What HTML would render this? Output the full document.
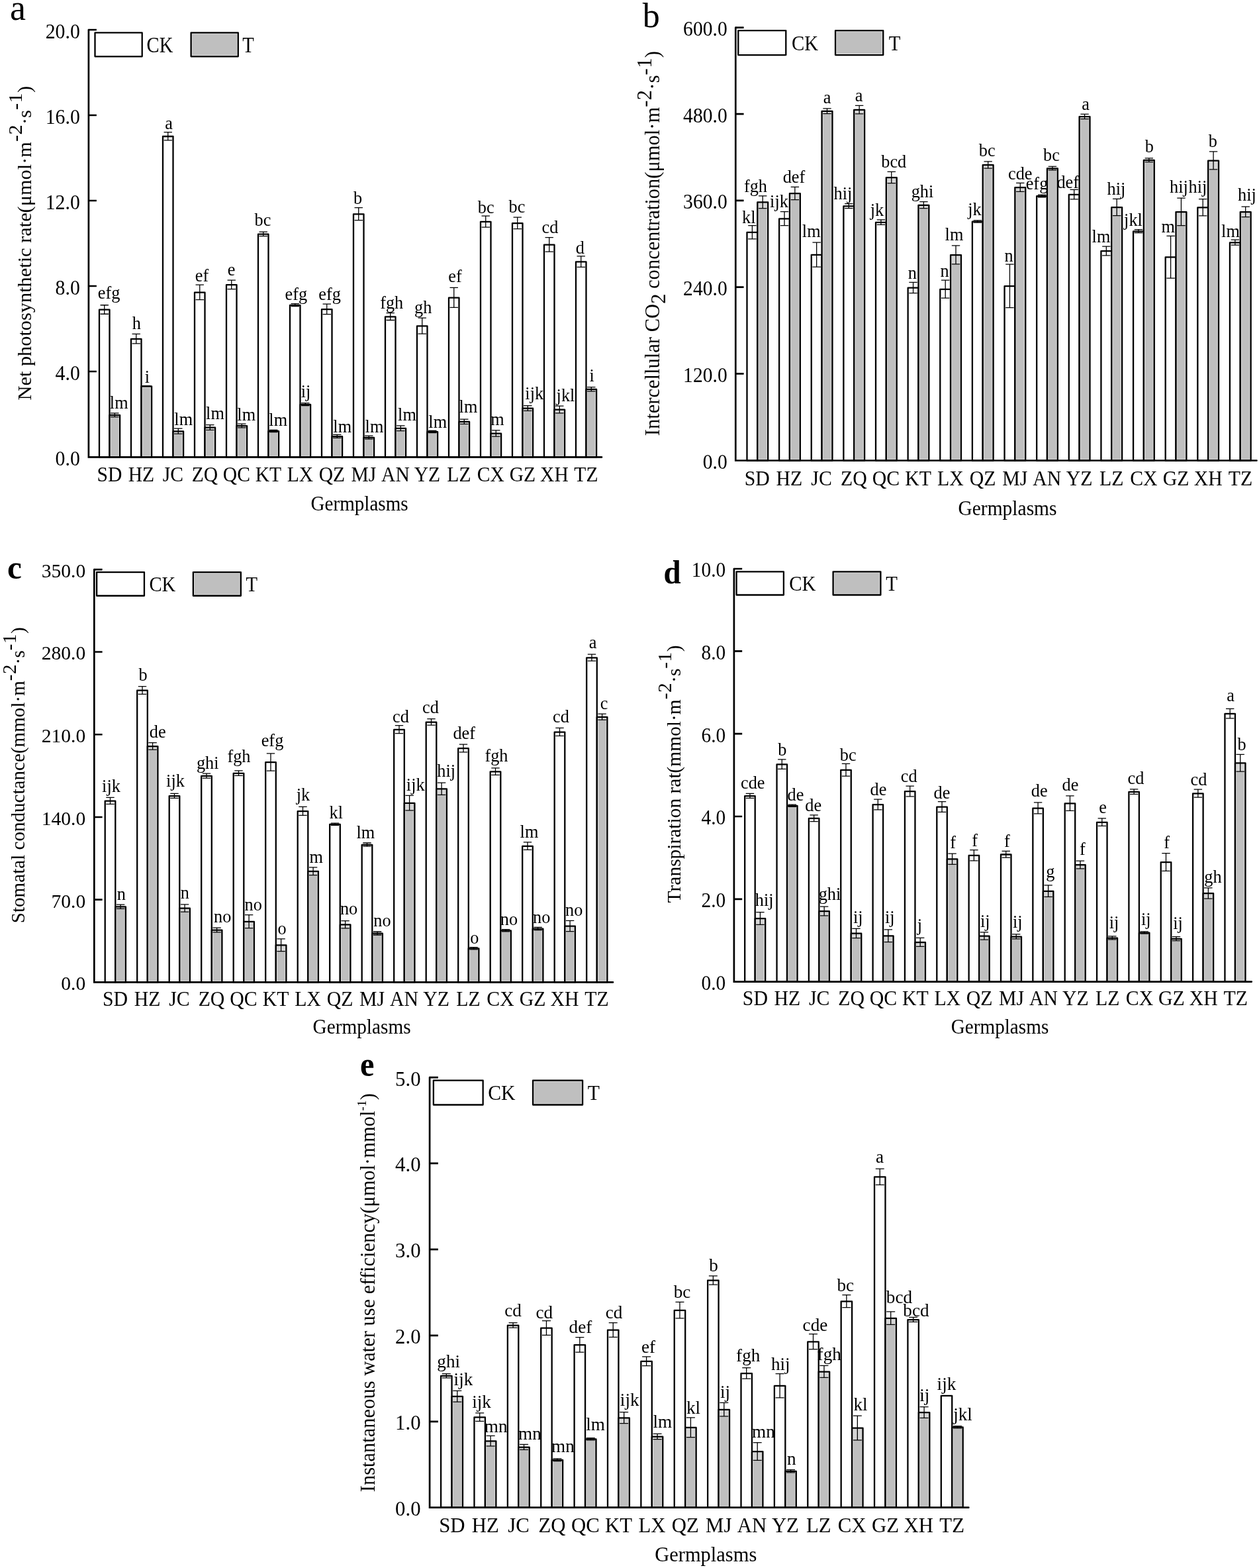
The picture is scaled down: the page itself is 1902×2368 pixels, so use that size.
<!DOCTYPE html>
<html lang="en">
<head>
<meta charset="utf-8">
<title>Photosynthetic parameters of germplasms under CK and T treatments</title>
<style>
html,body{margin:0;padding:0;background:#fff;}
body{width:1902px;height:2368px;overflow:hidden;font-family:"Liberation Serif","DejaVu Serif",serif;}
svg{display:block;}
svg text{font-family:"Liberation Serif","DejaVu Serif",serif;fill:#000;}
</style>
</head>
<body>
<svg width="1902" height="2368" viewBox="0 0 1902 2368">
<rect width="1902" height="2368" fill="#fff"/>
<g>
<text transform="translate(15 29.8) scale(1 1)" font-size="54">a</text>
<rect x="150" y="467.7" width="15.5" height="222.7" fill="#fff" stroke="#000" stroke-width="2.3" stroke-linejoin="round"/>
<rect x="165.5" y="626.9" width="15.6" height="63.5" fill="#bfbfbf"/>
<rect x="167.1" y="628.5" width="12.4" height="60.5" fill="none" stroke="#dcdcdc" stroke-width="1.1"/>
<rect x="166.65" y="626.9" width="13.3" height="2.9" fill="#d6d6d6"/>
<rect x="165.5" y="626.9" width="15.6" height="63.5" fill="none" stroke="#000" stroke-width="2.3" stroke-linejoin="round"/>
<path d="M157.75 460.75V474.25M151.55 460.75H163.95M151.55 474.25H163.95" fill="none" stroke="#000" stroke-width="1.3"/>
<path d="M173.3 623.8V629.6M167.1 623.8H179.5M167.1 629.6H179.5" fill="none" stroke="#000" stroke-width="1.3"/>
<rect x="198" y="511.9" width="15.5" height="178.5" fill="#fff" stroke="#000" stroke-width="2.3" stroke-linejoin="round"/>
<rect x="213.5" y="583.4" width="15.6" height="107" fill="#bfbfbf"/>
<rect x="215.1" y="585" width="12.4" height="104" fill="none" stroke="#dcdcdc" stroke-width="1.1"/>
<rect x="213.5" y="583.4" width="15.6" height="107" fill="none" stroke="#000" stroke-width="2.3" stroke-linejoin="round"/>
<path d="M205.75 504.45V518.95M199.55 504.45H211.95M199.55 518.95H211.95" fill="none" stroke="#000" stroke-width="1.3"/>
<path d="M221.3 582.7V583.7M215.1 582.7H227.5M215.1 583.7H227.5" fill="none" stroke="#000" stroke-width="1.3"/>
<rect x="246" y="206" width="15.5" height="484.4" fill="#fff" stroke="#000" stroke-width="2.3" stroke-linejoin="round"/>
<rect x="261.5" y="651.4" width="15.6" height="39" fill="#bfbfbf"/>
<rect x="263.1" y="653" width="12.4" height="36" fill="none" stroke="#dcdcdc" stroke-width="1.1"/>
<rect x="262.65" y="651.4" width="13.3" height="4" fill="#d6d6d6"/>
<rect x="261.5" y="651.4" width="15.6" height="39" fill="none" stroke="#000" stroke-width="2.3" stroke-linejoin="round"/>
<path d="M253.75 199.7V211.9M247.55 199.7H259.95M247.55 211.9H259.95" fill="none" stroke="#000" stroke-width="1.3"/>
<path d="M269.3 647.2V655.2M263.1 647.2H275.5M263.1 655.2H275.5" fill="none" stroke="#000" stroke-width="1.3"/>
<rect x="294" y="441.65" width="15.5" height="248.75" fill="#fff" stroke="#000" stroke-width="2.3" stroke-linejoin="round"/>
<rect x="309.5" y="645.65" width="15.6" height="44.75" fill="#bfbfbf"/>
<rect x="311.1" y="647.25" width="12.4" height="41.75" fill="none" stroke="#dcdcdc" stroke-width="1.1"/>
<rect x="310.65" y="645.65" width="13.3" height="3.9" fill="#d6d6d6"/>
<rect x="309.5" y="645.65" width="15.6" height="44.75" fill="none" stroke="#000" stroke-width="2.3" stroke-linejoin="round"/>
<path d="M301.75 430.2V452.7M295.55 430.2H307.95M295.55 452.7H307.95" fill="none" stroke="#000" stroke-width="1.3"/>
<path d="M317.3 641.55V649.35M311.1 641.55H323.5M311.1 649.35H323.5" fill="none" stroke="#000" stroke-width="1.3"/>
<rect x="342" y="430.15" width="15.5" height="260.25" fill="#fff" stroke="#000" stroke-width="2.3" stroke-linejoin="round"/>
<rect x="357.5" y="643.15" width="15.6" height="47.25" fill="#bfbfbf"/>
<rect x="359.1" y="644.75" width="12.4" height="44.25" fill="none" stroke="#dcdcdc" stroke-width="1.1"/>
<rect x="358.65" y="643.15" width="13.3" height="2.9" fill="#d6d6d6"/>
<rect x="357.5" y="643.15" width="15.6" height="47.25" fill="none" stroke="#000" stroke-width="2.3" stroke-linejoin="round"/>
<path d="M349.75 423.2V436.7M343.55 423.2H355.95M343.55 436.7H355.95" fill="none" stroke="#000" stroke-width="1.3"/>
<path d="M365.3 640.05V645.85M359.1 640.05H371.5M359.1 645.85H371.5" fill="none" stroke="#000" stroke-width="1.3"/>
<rect x="390" y="353.65" width="15.5" height="336.75" fill="#fff" stroke="#000" stroke-width="2.3" stroke-linejoin="round"/>
<rect x="405.5" y="651.15" width="15.6" height="39.25" fill="#bfbfbf"/>
<rect x="407.1" y="652.75" width="12.4" height="36.25" fill="none" stroke="#dcdcdc" stroke-width="1.1"/>
<rect x="405.5" y="651.15" width="15.6" height="39.25" fill="none" stroke="#000" stroke-width="2.3" stroke-linejoin="round"/>
<path d="M397.75 350.2V356.7M391.55 350.2H403.95M391.55 356.7H403.95" fill="none" stroke="#000" stroke-width="1.3"/>
<path d="M413.3 649.35V652.55M407.1 649.35H419.5M407.1 652.55H419.5" fill="none" stroke="#000" stroke-width="1.3"/>
<rect x="438" y="460.9" width="15.5" height="229.5" fill="#fff" stroke="#000" stroke-width="2.3" stroke-linejoin="round"/>
<rect x="453.5" y="610.9" width="15.6" height="79.5" fill="#bfbfbf"/>
<rect x="455.1" y="612.5" width="12.4" height="76.5" fill="none" stroke="#dcdcdc" stroke-width="1.1"/>
<rect x="453.5" y="610.9" width="15.6" height="79.5" fill="none" stroke="#000" stroke-width="2.3" stroke-linejoin="round"/>
<path d="M445.75 458.7V462.7M439.55 458.7H451.95M439.55 462.7H451.95" fill="none" stroke="#000" stroke-width="1.3"/>
<path d="M461.3 608.7V612.7M455.1 608.7H467.5M455.1 612.7H467.5" fill="none" stroke="#000" stroke-width="1.3"/>
<rect x="486" y="467.15" width="15.5" height="223.25" fill="#fff" stroke="#000" stroke-width="2.3" stroke-linejoin="round"/>
<rect x="501.5" y="659.15" width="15.6" height="31.25" fill="#bfbfbf"/>
<rect x="503.1" y="660.75" width="12.4" height="28.25" fill="none" stroke="#dcdcdc" stroke-width="1.1"/>
<rect x="502.65" y="659.15" width="13.3" height="2.5" fill="#d6d6d6"/>
<rect x="501.5" y="659.15" width="15.6" height="31.25" fill="none" stroke="#000" stroke-width="2.3" stroke-linejoin="round"/>
<path d="M493.75 459.2V474.7M487.55 459.2H499.95M487.55 474.7H499.95" fill="none" stroke="#000" stroke-width="1.3"/>
<path d="M509.3 656.45V661.45M503.1 656.45H515.5M503.1 661.45H515.5" fill="none" stroke="#000" stroke-width="1.3"/>
<rect x="534" y="323.4" width="15.5" height="367" fill="#fff" stroke="#000" stroke-width="2.3" stroke-linejoin="round"/>
<rect x="549.5" y="660.9" width="15.6" height="29.5" fill="#bfbfbf"/>
<rect x="551.1" y="662.5" width="12.4" height="26.5" fill="none" stroke="#dcdcdc" stroke-width="1.1"/>
<rect x="550.65" y="660.9" width="13.3" height="2.5" fill="#d6d6d6"/>
<rect x="549.5" y="660.9" width="15.6" height="29.5" fill="none" stroke="#000" stroke-width="2.3" stroke-linejoin="round"/>
<path d="M541.75 313.7V332.7M535.55 313.7H547.95M535.55 332.7H547.95" fill="none" stroke="#000" stroke-width="1.3"/>
<path d="M557.3 658.2V663.2M551.1 658.2H563.5M551.1 663.2H563.5" fill="none" stroke="#000" stroke-width="1.3"/>
<rect x="582" y="478.3" width="15.5" height="212.1" fill="#fff" stroke="#000" stroke-width="2.3" stroke-linejoin="round"/>
<rect x="597.5" y="646.9" width="15.6" height="43.5" fill="#bfbfbf"/>
<rect x="599.1" y="648.5" width="12.4" height="40.5" fill="none" stroke="#dcdcdc" stroke-width="1.1"/>
<rect x="598.65" y="646.9" width="13.3" height="3.9" fill="#d6d6d6"/>
<rect x="597.5" y="646.9" width="15.6" height="43.5" fill="none" stroke="#000" stroke-width="2.3" stroke-linejoin="round"/>
<path d="M589.75 472.7V483.5M583.55 472.7H595.95M583.55 483.5H595.95" fill="none" stroke="#000" stroke-width="1.3"/>
<path d="M605.3 642.8V650.6M599.1 642.8H611.5M599.1 650.6H611.5" fill="none" stroke="#000" stroke-width="1.3"/>
<rect x="630" y="492.4" width="15.5" height="198" fill="#fff" stroke="#000" stroke-width="2.3" stroke-linejoin="round"/>
<rect x="645.5" y="652.15" width="15.6" height="38.25" fill="#bfbfbf"/>
<rect x="647.1" y="653.75" width="12.4" height="35.25" fill="none" stroke="#dcdcdc" stroke-width="1.1"/>
<rect x="645.5" y="652.15" width="15.6" height="38.25" fill="none" stroke="#000" stroke-width="2.3" stroke-linejoin="round"/>
<path d="M637.75 480.2V504.2M631.55 480.2H643.95M631.55 504.2H643.95" fill="none" stroke="#000" stroke-width="1.3"/>
<path d="M653.3 650.35V653.55M647.1 650.35H659.5M647.1 653.55H659.5" fill="none" stroke="#000" stroke-width="1.3"/>
<rect x="678" y="449.65" width="15.5" height="240.75" fill="#fff" stroke="#000" stroke-width="2.3" stroke-linejoin="round"/>
<rect x="693.5" y="636.9" width="15.6" height="53.5" fill="#bfbfbf"/>
<rect x="695.1" y="638.5" width="12.4" height="50.5" fill="none" stroke="#dcdcdc" stroke-width="1.1"/>
<rect x="694.65" y="636.9" width="13.3" height="3.6" fill="#d6d6d6"/>
<rect x="693.5" y="636.9" width="15.6" height="53.5" fill="none" stroke="#000" stroke-width="2.3" stroke-linejoin="round"/>
<path d="M685.75 434.45V464.45M679.55 434.45H691.95M679.55 464.45H691.95" fill="none" stroke="#000" stroke-width="1.3"/>
<path d="M701.3 633.1V640.3M695.1 633.1H707.5M695.1 640.3H707.5" fill="none" stroke="#000" stroke-width="1.3"/>
<rect x="726" y="334.9" width="15.5" height="355.5" fill="#fff" stroke="#000" stroke-width="2.3" stroke-linejoin="round"/>
<rect x="741.5" y="654.65" width="15.6" height="35.75" fill="#bfbfbf"/>
<rect x="743.1" y="656.25" width="12.4" height="32.75" fill="none" stroke="#dcdcdc" stroke-width="1.1"/>
<rect x="742.65" y="654.65" width="13.3" height="4.6" fill="#d6d6d6"/>
<rect x="741.5" y="654.65" width="15.6" height="35.75" fill="none" stroke="#000" stroke-width="2.3" stroke-linejoin="round"/>
<path d="M733.75 326.2V343.2M727.55 326.2H739.95M727.55 343.2H739.95" fill="none" stroke="#000" stroke-width="1.3"/>
<path d="M749.3 649.85V659.05M743.1 649.85H755.5M743.1 659.05H755.5" fill="none" stroke="#000" stroke-width="1.3"/>
<rect x="774" y="337.15" width="15.5" height="353.25" fill="#fff" stroke="#000" stroke-width="2.3" stroke-linejoin="round"/>
<rect x="789.5" y="616.65" width="15.6" height="73.75" fill="#bfbfbf"/>
<rect x="791.1" y="618.25" width="12.4" height="70.75" fill="none" stroke="#dcdcdc" stroke-width="1.1"/>
<rect x="790.65" y="616.65" width="13.3" height="3.9" fill="#d6d6d6"/>
<rect x="789.5" y="616.65" width="15.6" height="73.75" fill="none" stroke="#000" stroke-width="2.3" stroke-linejoin="round"/>
<path d="M781.75 328.2V345.7M775.55 328.2H787.95M775.55 345.7H787.95" fill="none" stroke="#000" stroke-width="1.3"/>
<path d="M797.3 612.55V620.35M791.1 612.55H803.5M791.1 620.35H803.5" fill="none" stroke="#000" stroke-width="1.3"/>
<rect x="822" y="369.65" width="15.5" height="320.75" fill="#fff" stroke="#000" stroke-width="2.3" stroke-linejoin="round"/>
<rect x="837.5" y="618.65" width="15.6" height="71.75" fill="#bfbfbf"/>
<rect x="839.1" y="620.25" width="12.4" height="68.75" fill="none" stroke="#dcdcdc" stroke-width="1.1"/>
<rect x="838.65" y="618.65" width="13.3" height="5.4" fill="#d6d6d6"/>
<rect x="837.5" y="618.65" width="15.6" height="71.75" fill="none" stroke="#000" stroke-width="2.3" stroke-linejoin="round"/>
<path d="M829.75 358.7V380.2M823.55 358.7H835.95M823.55 380.2H835.95" fill="none" stroke="#000" stroke-width="1.3"/>
<path d="M845.3 613.05V623.85M839.1 613.05H851.5M839.1 623.85H851.5" fill="none" stroke="#000" stroke-width="1.3"/>
<rect x="870" y="395.4" width="15.5" height="295" fill="#fff" stroke="#000" stroke-width="2.3" stroke-linejoin="round"/>
<rect x="885.5" y="587.9" width="15.6" height="102.5" fill="#bfbfbf"/>
<rect x="887.1" y="589.5" width="12.4" height="99.5" fill="none" stroke="#dcdcdc" stroke-width="1.1"/>
<rect x="886.65" y="587.9" width="13.3" height="3.1" fill="#d6d6d6"/>
<rect x="885.5" y="587.9" width="15.6" height="102.5" fill="none" stroke="#000" stroke-width="2.3" stroke-linejoin="round"/>
<path d="M877.75 386.95V403.45M871.55 386.95H883.95M871.55 403.45H883.95" fill="none" stroke="#000" stroke-width="1.3"/>
<path d="M893.3 584.6V590.8M887.1 584.6H899.5M887.1 590.8H899.5" fill="none" stroke="#000" stroke-width="1.3"/>
<g font-size="26.3" text-anchor="middle" transform="scale(1 1.075)">
<text x="164.6" y="419.35">efg</text>
<text x="179.75" y="573.77">lm</text>
<text x="206.25" y="462.14">h</text>
<text x="222.5" y="537.26">i</text>
<text x="255" y="181.44">a</text>
<text x="277.25" y="597.02">lm</text>
<text x="305" y="395.4">ef</text>
<text x="325" y="589.12">lm</text>
<text x="349.5" y="387.26">e</text>
<text x="372.25" y="590.74">lm</text>
<text x="397" y="317.49">bc</text>
<text x="420.25" y="598.42">lm</text>
<text x="447.25" y="421.44">efg</text>
<text x="462" y="558.19">ij</text>
<text x="498" y="421.44">efg</text>
<text x="517.25" y="607.72">lm</text>
<text x="540.6" y="286.09">b</text>
<text x="565.5" y="607.72">lm</text>
<text x="591.75" y="433.07">fgh</text>
<text x="615" y="590.74">lm</text>
<text x="639.25" y="440.05">gh</text>
<text x="661.25" y="600.51">lm</text>
<text x="687.5" y="396.09">ef</text>
<text x="707.5" y="579.12">lm</text>
<text x="734.25" y="299.58">bc</text>
<text x="751.5" y="597.02">m</text>
<text x="781" y="298.19">bc</text>
<text x="807.25" y="560.51">ijk</text>
<text x="831" y="327.72">cd</text>
<text x="854.5" y="564">jkl</text>
<text x="876.25" y="356.56">d</text>
<text x="894.25" y="536.09">i</text>
</g>
<path d="M133.9 45V690.4H909" fill="none" stroke="#000" stroke-width="2.7" stroke-linecap="round"/>
<path d="M133.9 45H145.9M133.9 174H145.9M133.9 303H145.9M133.9 432H145.9M133.9 561H145.9" fill="none" stroke="#000" stroke-width="2.7"/>
<g font-size="29.8" text-anchor="end" transform="scale(1 1.07)">
<text x="120.8" y="54.21">20.0</text>
<text x="120.8" y="174.77">16.0</text>
<text x="120.8" y="295.33">12.0</text>
<text x="120.8" y="415.89">8.0</text>
<text x="120.8" y="536.45">4.0</text>
<text x="120.8" y="657.38">0.0</text>
</g>
<rect x="143.5" y="49.4" width="71.2" height="35.9" fill="#fff" stroke="#000" stroke-width="2.3" stroke-linejoin="round"/>
<rect x="288.6" y="49.4" width="71.2" height="35.9" fill="#bfbfbf"/>
<rect x="290.2" y="51" width="68" height="32.7" fill="none" stroke="#dcdcdc" stroke-width="1.1"/>
<rect x="288.6" y="49.4" width="71.2" height="35.9" fill="none" stroke="#000" stroke-width="2.3" stroke-linejoin="round"/>
<g font-size="28.7" transform="scale(1 1.14)">
<text x="221.6" y="69.56">CK</text>
<text x="366.3" y="69.56">T</text>
</g>
<g font-size="29.6" text-anchor="middle" transform="scale(1 1.07)">
<text x="165.4" y="679.86">SD</text>
<text x="213.4" y="679.86">HZ</text>
<text x="261.4" y="679.86">JC</text>
<text x="309.4" y="679.86">ZQ</text>
<text x="357.4" y="679.86">QC</text>
<text x="405.4" y="679.86">KT</text>
<text x="453.4" y="679.86">LX</text>
<text x="501.4" y="679.86">QZ</text>
<text x="549.4" y="679.86">MJ</text>
<text x="597.4" y="679.86">AN</text>
<text x="645.4" y="679.86">YZ</text>
<text x="693.4" y="679.86">LZ</text>
<text x="741.4" y="679.86">CX</text>
<text x="789.4" y="679.86">GZ</text>
<text x="837.4" y="679.86">XH</text>
<text x="885.4" y="679.86">TZ</text>
</g>
<text transform="translate(469.6 771.3) scale(1 1.06)" font-size="29.1">Germplasms</text>
<text transform="translate(47 604.5) rotate(-90)" font-size="30.35">Net photosynthetic rate(μmol·m<tspan dy="-13.6" letter-spacing="0.4">-2</tspan><tspan dy="13.6">·s</tspan><tspan dy="-13.6" letter-spacing="0.4">-1</tspan><tspan dy="13.6">)</tspan></text>
</g>
<g>
<text transform="translate(970.7 40.7) scale(1 1)" font-size="52">b</text>
<rect x="1128.5" y="350.9" width="15.8" height="344.6" fill="#fff" stroke="#000" stroke-width="2.3" stroke-linejoin="round"/>
<rect x="1144.3" y="305.4" width="15.9" height="390.1" fill="#bfbfbf"/>
<rect x="1145.9" y="307" width="12.7" height="387.1" fill="none" stroke="#dcdcdc" stroke-width="1.1"/>
<rect x="1145.45" y="305.4" width="13.6" height="9.4" fill="#d6d6d6"/>
<rect x="1144.3" y="305.4" width="15.9" height="390.1" fill="none" stroke="#000" stroke-width="2.3" stroke-linejoin="round"/>
<path d="M1136.4 340.6V360.8M1130.2 340.6H1142.6M1130.2 360.8H1142.6" fill="none" stroke="#000" stroke-width="1.3"/>
<path d="M1152.25 295.8V314.6M1146.05 295.8H1158.45M1146.05 314.6H1158.45" fill="none" stroke="#000" stroke-width="1.3"/>
<rect x="1177.13" y="330.4" width="15.8" height="365.1" fill="#fff" stroke="#000" stroke-width="2.3" stroke-linejoin="round"/>
<rect x="1192.93" y="292.15" width="15.9" height="403.35" fill="#bfbfbf"/>
<rect x="1194.53" y="293.75" width="12.7" height="400.35" fill="none" stroke="#dcdcdc" stroke-width="1.1"/>
<rect x="1194.08" y="292.15" width="13.6" height="9.6" fill="#d6d6d6"/>
<rect x="1192.93" y="292.15" width="15.9" height="403.35" fill="none" stroke="#000" stroke-width="2.3" stroke-linejoin="round"/>
<path d="M1185.03 319.7V340.7M1178.83 319.7H1191.23M1178.83 340.7H1191.23" fill="none" stroke="#000" stroke-width="1.3"/>
<path d="M1200.88 282.35V301.55M1194.68 282.35H1207.08M1194.68 301.55H1207.08" fill="none" stroke="#000" stroke-width="1.3"/>
<rect x="1225.76" y="384.9" width="15.8" height="310.6" fill="#fff" stroke="#000" stroke-width="2.3" stroke-linejoin="round"/>
<rect x="1241.56" y="167.9" width="15.9" height="527.6" fill="#bfbfbf"/>
<rect x="1243.16" y="169.5" width="12.7" height="524.6" fill="none" stroke="#dcdcdc" stroke-width="1.1"/>
<rect x="1242.71" y="167.9" width="13.6" height="3.9" fill="#d6d6d6"/>
<rect x="1241.56" y="167.9" width="15.9" height="527.6" fill="none" stroke="#000" stroke-width="2.3" stroke-linejoin="round"/>
<path d="M1233.66 366.2V403.2M1227.46 366.2H1239.86M1227.46 403.2H1239.86" fill="none" stroke="#000" stroke-width="1.3"/>
<path d="M1249.51 163.8V171.6M1243.31 163.8H1255.71M1243.31 171.6H1255.71" fill="none" stroke="#000" stroke-width="1.3"/>
<rect x="1274.39" y="311.4" width="15.8" height="384.1" fill="#fff" stroke="#000" stroke-width="2.3" stroke-linejoin="round"/>
<rect x="1290.19" y="165.9" width="15.9" height="529.6" fill="#bfbfbf"/>
<rect x="1291.79" y="167.5" width="12.7" height="526.6" fill="none" stroke="#dcdcdc" stroke-width="1.1"/>
<rect x="1291.34" y="165.9" width="13.6" height="6.25" fill="#d6d6d6"/>
<rect x="1290.19" y="165.9" width="15.9" height="529.6" fill="none" stroke="#000" stroke-width="2.3" stroke-linejoin="round"/>
<path d="M1282.29 307.7V314.7M1276.09 307.7H1288.49M1276.09 314.7H1288.49" fill="none" stroke="#000" stroke-width="1.3"/>
<path d="M1298.14 159.45V171.95M1291.94 159.45H1304.34M1291.94 171.95H1304.34" fill="none" stroke="#000" stroke-width="1.3"/>
<rect x="1323.02" y="335.9" width="15.8" height="359.6" fill="#fff" stroke="#000" stroke-width="2.3" stroke-linejoin="round"/>
<rect x="1338.82" y="268.15" width="15.9" height="427.35" fill="#bfbfbf"/>
<rect x="1340.42" y="269.75" width="12.7" height="424.35" fill="none" stroke="#dcdcdc" stroke-width="1.1"/>
<rect x="1339.97" y="268.15" width="13.6" height="8.6" fill="#d6d6d6"/>
<rect x="1338.82" y="268.15" width="15.9" height="427.35" fill="none" stroke="#000" stroke-width="2.3" stroke-linejoin="round"/>
<path d="M1330.92 331.95V339.45M1324.72 331.95H1337.12M1324.72 339.45H1337.12" fill="none" stroke="#000" stroke-width="1.3"/>
<path d="M1346.77 259.35V276.55M1340.57 259.35H1352.97M1340.57 276.55H1352.97" fill="none" stroke="#000" stroke-width="1.3"/>
<rect x="1371.65" y="434.65" width="15.8" height="260.85" fill="#fff" stroke="#000" stroke-width="2.3" stroke-linejoin="round"/>
<rect x="1387.45" y="309.9" width="15.9" height="385.6" fill="#bfbfbf"/>
<rect x="1389.05" y="311.5" width="12.7" height="382.6" fill="none" stroke="#dcdcdc" stroke-width="1.1"/>
<rect x="1388.6" y="309.9" width="13.6" height="5" fill="#d6d6d6"/>
<rect x="1387.45" y="309.9" width="15.9" height="385.6" fill="none" stroke="#000" stroke-width="2.3" stroke-linejoin="round"/>
<path d="M1379.55 426.35V442.55M1373.35 426.35H1385.75M1373.35 442.55H1385.75" fill="none" stroke="#000" stroke-width="1.3"/>
<path d="M1395.4 304.7V314.7M1389.2 304.7H1401.6M1389.2 314.7H1401.6" fill="none" stroke="#000" stroke-width="1.3"/>
<rect x="1420.28" y="436.9" width="15.8" height="258.6" fill="#fff" stroke="#000" stroke-width="2.3" stroke-linejoin="round"/>
<rect x="1436.08" y="385.15" width="15.9" height="310.35" fill="#bfbfbf"/>
<rect x="1437.68" y="386.75" width="12.7" height="307.35" fill="none" stroke="#dcdcdc" stroke-width="1.1"/>
<rect x="1437.23" y="385.15" width="13.6" height="14" fill="#d6d6d6"/>
<rect x="1436.08" y="385.15" width="15.9" height="310.35" fill="none" stroke="#000" stroke-width="2.3" stroke-linejoin="round"/>
<path d="M1428.18 423.2V450.2M1421.98 423.2H1434.38M1421.98 450.2H1434.38" fill="none" stroke="#000" stroke-width="1.3"/>
<path d="M1444.03 370.95V398.95M1437.83 370.95H1450.23M1437.83 398.95H1450.23" fill="none" stroke="#000" stroke-width="1.3"/>
<rect x="1468.91" y="334.65" width="15.8" height="360.85" fill="#fff" stroke="#000" stroke-width="2.3" stroke-linejoin="round"/>
<rect x="1484.71" y="249.15" width="15.9" height="446.35" fill="#bfbfbf"/>
<rect x="1486.31" y="250.75" width="12.7" height="443.35" fill="none" stroke="#dcdcdc" stroke-width="1.1"/>
<rect x="1485.86" y="249.15" width="13.6" height="5.1" fill="#d6d6d6"/>
<rect x="1484.71" y="249.15" width="15.9" height="446.35" fill="none" stroke="#000" stroke-width="2.3" stroke-linejoin="round"/>
<path d="M1476.81 332.85V336.05M1470.61 332.85H1483.01M1470.61 336.05H1483.01" fill="none" stroke="#000" stroke-width="1.3"/>
<path d="M1492.66 243.85V254.05M1486.46 243.85H1498.86M1486.46 254.05H1498.86" fill="none" stroke="#000" stroke-width="1.3"/>
<rect x="1517.54" y="432.15" width="15.8" height="263.35" fill="#fff" stroke="#000" stroke-width="2.3" stroke-linejoin="round"/>
<rect x="1533.34" y="283.15" width="15.9" height="412.35" fill="#bfbfbf"/>
<rect x="1534.94" y="284.75" width="12.7" height="409.35" fill="none" stroke="#dcdcdc" stroke-width="1.1"/>
<rect x="1534.49" y="283.15" width="13.6" height="6.5" fill="#d6d6d6"/>
<rect x="1533.34" y="283.15" width="15.9" height="412.35" fill="none" stroke="#000" stroke-width="2.3" stroke-linejoin="round"/>
<path d="M1525.44 399.2V464.7M1519.24 399.2H1531.64M1519.24 464.7H1531.64" fill="none" stroke="#000" stroke-width="1.3"/>
<path d="M1541.29 276.45V289.45M1535.09 276.45H1547.49M1535.09 289.45H1547.49" fill="none" stroke="#000" stroke-width="1.3"/>
<rect x="1566.17" y="296.15" width="15.8" height="399.35" fill="#fff" stroke="#000" stroke-width="2.3" stroke-linejoin="round"/>
<rect x="1581.97" y="254.4" width="15.9" height="441.1" fill="#bfbfbf"/>
<rect x="1583.57" y="256" width="12.7" height="438.1" fill="none" stroke="#dcdcdc" stroke-width="1.1"/>
<rect x="1583.12" y="254.4" width="13.6" height="2.75" fill="#d6d6d6"/>
<rect x="1581.97" y="254.4" width="15.9" height="441.1" fill="none" stroke="#000" stroke-width="2.3" stroke-linejoin="round"/>
<path d="M1574.07 294.15V297.75M1567.87 294.15H1580.27M1567.87 297.75H1580.27" fill="none" stroke="#000" stroke-width="1.3"/>
<path d="M1589.92 251.45V256.95M1583.72 251.45H1596.12M1583.72 256.95H1596.12" fill="none" stroke="#000" stroke-width="1.3"/>
<rect x="1614.8" y="293.9" width="15.8" height="401.6" fill="#fff" stroke="#000" stroke-width="2.3" stroke-linejoin="round"/>
<rect x="1630.6" y="176.15" width="15.9" height="519.35" fill="#bfbfbf"/>
<rect x="1632.2" y="177.75" width="12.7" height="516.35" fill="none" stroke="#dcdcdc" stroke-width="1.1"/>
<rect x="1631.75" y="176.15" width="13.6" height="3.6" fill="#d6d6d6"/>
<rect x="1630.6" y="176.15" width="15.9" height="519.35" fill="none" stroke="#000" stroke-width="2.3" stroke-linejoin="round"/>
<path d="M1622.7 286.45V300.95M1616.5 286.45H1628.9M1616.5 300.95H1628.9" fill="none" stroke="#000" stroke-width="1.3"/>
<path d="M1638.55 172.35V179.55M1632.35 172.35H1644.75M1632.35 179.55H1644.75" fill="none" stroke="#000" stroke-width="1.3"/>
<rect x="1663.43" y="379.15" width="15.8" height="316.35" fill="#fff" stroke="#000" stroke-width="2.3" stroke-linejoin="round"/>
<rect x="1679.23" y="313.15" width="15.9" height="382.35" fill="#bfbfbf"/>
<rect x="1680.83" y="314.75" width="12.7" height="379.35" fill="none" stroke="#dcdcdc" stroke-width="1.1"/>
<rect x="1680.38" y="313.15" width="13.6" height="12.6" fill="#d6d6d6"/>
<rect x="1679.23" y="313.15" width="15.9" height="382.35" fill="none" stroke="#000" stroke-width="2.3" stroke-linejoin="round"/>
<path d="M1671.33 372.05V385.85M1665.13 372.05H1677.53M1665.13 385.85H1677.53" fill="none" stroke="#000" stroke-width="1.3"/>
<path d="M1687.18 300.35V325.55M1680.98 300.35H1693.38M1680.98 325.55H1693.38" fill="none" stroke="#000" stroke-width="1.3"/>
<rect x="1712.06" y="349.4" width="15.8" height="346.1" fill="#fff" stroke="#000" stroke-width="2.3" stroke-linejoin="round"/>
<rect x="1727.86" y="241.9" width="15.9" height="453.6" fill="#bfbfbf"/>
<rect x="1729.46" y="243.5" width="12.7" height="450.6" fill="none" stroke="#dcdcdc" stroke-width="1.1"/>
<rect x="1729.01" y="241.9" width="13.6" height="2.9" fill="#d6d6d6"/>
<rect x="1727.86" y="241.9" width="15.9" height="453.6" fill="none" stroke="#000" stroke-width="2.3" stroke-linejoin="round"/>
<path d="M1719.96 346.7V351.7M1713.76 346.7H1726.16M1713.76 351.7H1726.16" fill="none" stroke="#000" stroke-width="1.3"/>
<path d="M1735.81 238.8V244.6M1729.61 238.8H1742.01M1729.61 244.6H1742.01" fill="none" stroke="#000" stroke-width="1.3"/>
<rect x="1760.69" y="388.4" width="15.8" height="307.1" fill="#fff" stroke="#000" stroke-width="2.3" stroke-linejoin="round"/>
<rect x="1776.49" y="320.15" width="15.9" height="375.35" fill="#bfbfbf"/>
<rect x="1778.09" y="321.75" width="12.7" height="372.35" fill="none" stroke="#dcdcdc" stroke-width="1.1"/>
<rect x="1777.64" y="320.15" width="13.6" height="20.75" fill="#d6d6d6"/>
<rect x="1776.49" y="320.15" width="15.9" height="375.35" fill="none" stroke="#000" stroke-width="2.3" stroke-linejoin="round"/>
<path d="M1768.59 356.3V420.1M1762.39 356.3H1774.79M1762.39 420.1H1774.79" fill="none" stroke="#000" stroke-width="1.3"/>
<path d="M1784.44 299.2V340.7M1778.24 299.2H1790.64M1778.24 340.7H1790.64" fill="none" stroke="#000" stroke-width="1.3"/>
<rect x="1809.32" y="313.4" width="15.8" height="382.1" fill="#fff" stroke="#000" stroke-width="2.3" stroke-linejoin="round"/>
<rect x="1825.12" y="242.65" width="15.9" height="452.85" fill="#bfbfbf"/>
<rect x="1826.72" y="244.25" width="12.7" height="449.85" fill="none" stroke="#dcdcdc" stroke-width="1.1"/>
<rect x="1826.27" y="242.65" width="13.6" height="13.5" fill="#d6d6d6"/>
<rect x="1825.12" y="242.65" width="15.9" height="452.85" fill="none" stroke="#000" stroke-width="2.3" stroke-linejoin="round"/>
<path d="M1817.22 300.6V325.8M1811.02 300.6H1823.42M1811.02 325.8H1823.42" fill="none" stroke="#000" stroke-width="1.3"/>
<path d="M1833.07 228.95V255.95M1826.87 228.95H1839.27M1826.87 255.95H1839.27" fill="none" stroke="#000" stroke-width="1.3"/>
<rect x="1857.95" y="366.4" width="15.8" height="329.1" fill="#fff" stroke="#000" stroke-width="2.3" stroke-linejoin="round"/>
<rect x="1873.75" y="320.15" width="15.9" height="375.35" fill="#bfbfbf"/>
<rect x="1875.35" y="321.75" width="12.7" height="372.35" fill="none" stroke="#dcdcdc" stroke-width="1.1"/>
<rect x="1874.9" y="320.15" width="13.6" height="7.75" fill="#d6d6d6"/>
<rect x="1873.75" y="320.15" width="15.9" height="375.35" fill="none" stroke="#000" stroke-width="2.3" stroke-linejoin="round"/>
<path d="M1865.85 362.2V370.2M1859.65 362.2H1872.05M1859.65 370.2H1872.05" fill="none" stroke="#000" stroke-width="1.3"/>
<path d="M1881.7 312.2V327.7M1875.5 312.2H1887.9M1875.5 327.7H1887.9" fill="none" stroke="#000" stroke-width="1.3"/>
<g font-size="26.3" text-anchor="middle" transform="scale(1 1.0)">
<text x="1131.25" y="337.05">kl</text>
<text x="1141.5" y="290.05">fgh</text>
<text x="1177" y="312.55">ijk</text>
<text x="1199.5" y="276.3">def</text>
<text x="1225.75" y="357.55">lm</text>
<text x="1249.5" y="156.3">a</text>
<text x="1273.5" y="300.8">hij</text>
<text x="1297.5" y="152.55">a</text>
<text x="1325" y="326.3">jk</text>
<text x="1350.25" y="252.55">bcd</text>
<text x="1378.25" y="420.8">n</text>
<text x="1393.5" y="297.55">ghi</text>
<text x="1427" y="418.3">n</text>
<text x="1441.5" y="363.3">lm</text>
<text x="1472.5" y="325.05">jk</text>
<text x="1491.2" y="235.8">bc</text>
<text x="1524.1" y="394.55">n</text>
<text x="1541.25" y="271.3">cde</text>
<text x="1566.5" y="286.3">efg</text>
<text x="1588.5" y="243.3">bc</text>
<text x="1613.25" y="283.8">def</text>
<text x="1640" y="166.3">a</text>
<text x="1663.5" y="365.8">lm</text>
<text x="1686.5" y="293.8">hij</text>
<text x="1712" y="341.3">jkl</text>
<text x="1736.25" y="230.05">b</text>
<text x="1764.75" y="351.3">m</text>
<text x="1781" y="291.3">hij</text>
<text x="1809.5" y="291.3">hij</text>
<text x="1832.25" y="221.8">b</text>
<text x="1859" y="358.3">lm</text>
<text x="1884" y="303.3">hij</text>
</g>
<path d="M1111.3 41.7V695.5H1898.5" fill="none" stroke="#000" stroke-width="2.7" stroke-linecap="round"/>
<path d="M1111.3 41.7H1123.6M1111.3 172.15H1123.6M1111.3 302.9H1123.6M1111.3 433.65H1123.6M1111.3 564.4H1123.6" fill="none" stroke="#000" stroke-width="2.7"/>
<g font-size="29.6" text-anchor="end" transform="scale(1 1.1)">
<text x="1098.7" y="49.36">600.0</text>
<text x="1098.7" y="167.95">480.0</text>
<text x="1098.7" y="286.82">360.0</text>
<text x="1098.7" y="405.68">240.0</text>
<text x="1098.7" y="524.55">120.0</text>
<text x="1098.7" y="643.73">0.0</text>
</g>
<rect x="1115.3" y="46.15" width="72" height="36.95" fill="#fff" stroke="#000" stroke-width="2.3" stroke-linejoin="round"/>
<rect x="1262.05" y="46.15" width="72.2" height="36.95" fill="#bfbfbf"/>
<rect x="1263.65" y="47.75" width="69" height="33.75" fill="none" stroke="#dcdcdc" stroke-width="1.1"/>
<rect x="1262.05" y="46.15" width="72.2" height="36.95" fill="none" stroke="#000" stroke-width="2.3" stroke-linejoin="round"/>
<g font-size="28.9" transform="scale(1 1.09)">
<text x="1196.1" y="69.54">CK</text>
<text x="1342.7" y="69.54">T</text>
</g>
<g font-size="29.8" text-anchor="middle" transform="scale(1 1.07)">
<text x="1143.75" y="685.33">SD</text>
<text x="1192.43" y="685.33">HZ</text>
<text x="1241.11" y="685.33">JC</text>
<text x="1289.79" y="685.33">ZQ</text>
<text x="1338.47" y="685.33">QC</text>
<text x="1387.15" y="685.33">KT</text>
<text x="1435.83" y="685.33">LX</text>
<text x="1484.51" y="685.33">QZ</text>
<text x="1533.19" y="685.33">MJ</text>
<text x="1581.87" y="685.33">AN</text>
<text x="1630.55" y="685.33">YZ</text>
<text x="1679.23" y="685.33">LZ</text>
<text x="1727.91" y="685.33">CX</text>
<text x="1776.59" y="685.33">GZ</text>
<text x="1825.27" y="685.33">XH</text>
<text x="1873.95" y="685.33">TZ</text>
</g>
<text transform="translate(1447.5 778.3) scale(1 1.06)" font-size="29.5">Germplasms</text>
<text transform="translate(995.9 658.2) rotate(-90)" font-size="30.55">Intercellular CO<tspan dy="8.9">2</tspan><tspan dy="-8.9"> concentration(μmol·m</tspan><tspan dy="-12.2" letter-spacing="0.4">-2</tspan><tspan dy="12.2">·s</tspan><tspan dy="-12.2" letter-spacing="0.4">-1</tspan><tspan dy="12.2">)</tspan></text>
</g>
<g>
<text transform="translate(10.9 874) scale(1.12 1.15)" font-size="44" font-weight="bold">c</text>
<rect x="158.7" y="1209.65" width="15.6" height="273.75" fill="#fff" stroke="#000" stroke-width="2.3" stroke-linejoin="round"/>
<rect x="174.3" y="1369.4" width="15.6" height="114" fill="#bfbfbf"/>
<rect x="175.9" y="1371" width="12.4" height="111" fill="none" stroke="#dcdcdc" stroke-width="1.1"/>
<rect x="175.45" y="1369.4" width="13.3" height="3.1" fill="#d6d6d6"/>
<rect x="174.3" y="1369.4" width="15.6" height="114" fill="none" stroke="#000" stroke-width="2.3" stroke-linejoin="round"/>
<path d="M166.5 1204.45V1214.45M160.3 1204.45H172.7M160.3 1214.45H172.7" fill="none" stroke="#000" stroke-width="1.3"/>
<path d="M182.1 1366.1V1372.3M175.9 1366.1H188.3M175.9 1372.3H188.3" fill="none" stroke="#000" stroke-width="1.3"/>
<rect x="207.2" y="1042.65" width="15.6" height="440.75" fill="#fff" stroke="#000" stroke-width="2.3" stroke-linejoin="round"/>
<rect x="222.8" y="1127.15" width="15.6" height="356.25" fill="#bfbfbf"/>
<rect x="224.4" y="1128.75" width="12.4" height="353.25" fill="none" stroke="#dcdcdc" stroke-width="1.1"/>
<rect x="223.95" y="1127.15" width="13.3" height="5.25" fill="#d6d6d6"/>
<rect x="222.8" y="1127.15" width="15.6" height="356.25" fill="none" stroke="#000" stroke-width="2.3" stroke-linejoin="round"/>
<path d="M215 1036.55V1048.35M208.8 1036.55H221.2M208.8 1048.35H221.2" fill="none" stroke="#000" stroke-width="1.3"/>
<path d="M230.6 1121.7V1132.2M224.4 1121.7H236.8M224.4 1132.2H236.8" fill="none" stroke="#000" stroke-width="1.3"/>
<rect x="255.7" y="1202.15" width="15.6" height="281.25" fill="#fff" stroke="#000" stroke-width="2.3" stroke-linejoin="round"/>
<rect x="271.3" y="1371.65" width="15.6" height="111.75" fill="#bfbfbf"/>
<rect x="272.9" y="1373.25" width="12.4" height="108.75" fill="none" stroke="#dcdcdc" stroke-width="1.1"/>
<rect x="272.45" y="1371.65" width="13.3" height="5.6" fill="#d6d6d6"/>
<rect x="271.3" y="1371.65" width="15.6" height="111.75" fill="none" stroke="#000" stroke-width="2.3" stroke-linejoin="round"/>
<path d="M263.5 1198.45V1205.45M257.3 1198.45H269.7M257.3 1205.45H269.7" fill="none" stroke="#000" stroke-width="1.3"/>
<path d="M279.1 1365.85V1377.05M272.9 1365.85H285.3M272.9 1377.05H285.3" fill="none" stroke="#000" stroke-width="1.3"/>
<rect x="304.2" y="1171.9" width="15.6" height="311.5" fill="#fff" stroke="#000" stroke-width="2.3" stroke-linejoin="round"/>
<rect x="319.8" y="1404.65" width="15.6" height="78.75" fill="#bfbfbf"/>
<rect x="321.4" y="1406.25" width="12.4" height="75.75" fill="none" stroke="#dcdcdc" stroke-width="1.1"/>
<rect x="320.95" y="1404.65" width="13.3" height="3.4" fill="#d6d6d6"/>
<rect x="319.8" y="1404.65" width="15.6" height="78.75" fill="none" stroke="#000" stroke-width="2.3" stroke-linejoin="round"/>
<path d="M312 1168.2V1175.2M305.8 1168.2H318.2M305.8 1175.2H318.2" fill="none" stroke="#000" stroke-width="1.3"/>
<path d="M327.6 1401.05V1407.85M321.4 1401.05H333.8M321.4 1407.85H333.8" fill="none" stroke="#000" stroke-width="1.3"/>
<rect x="352.7" y="1167.9" width="15.6" height="315.5" fill="#fff" stroke="#000" stroke-width="2.3" stroke-linejoin="round"/>
<rect x="368.3" y="1391.9" width="15.6" height="91.5" fill="#bfbfbf"/>
<rect x="369.9" y="1393.5" width="12.4" height="88.5" fill="none" stroke="#dcdcdc" stroke-width="1.1"/>
<rect x="369.45" y="1391.9" width="13.3" height="10" fill="#d6d6d6"/>
<rect x="368.3" y="1391.9" width="15.6" height="91.5" fill="none" stroke="#000" stroke-width="2.3" stroke-linejoin="round"/>
<path d="M360.5 1163.95V1171.45M354.3 1163.95H366.7M354.3 1171.45H366.7" fill="none" stroke="#000" stroke-width="1.3"/>
<path d="M376.1 1381.7V1401.7M369.9 1381.7H382.3M369.9 1401.7H382.3" fill="none" stroke="#000" stroke-width="1.3"/>
<rect x="401.2" y="1151.15" width="15.6" height="332.25" fill="#fff" stroke="#000" stroke-width="2.3" stroke-linejoin="round"/>
<rect x="416.8" y="1427.4" width="15.6" height="56" fill="#bfbfbf"/>
<rect x="418.4" y="1429" width="12.4" height="53" fill="none" stroke="#dcdcdc" stroke-width="1.1"/>
<rect x="417.95" y="1427.4" width="13.3" height="9.4" fill="#d6d6d6"/>
<rect x="416.8" y="1427.4" width="15.6" height="56" fill="none" stroke="#000" stroke-width="2.3" stroke-linejoin="round"/>
<path d="M409 1137.85V1164.05M402.8 1137.85H415.2M402.8 1164.05H415.2" fill="none" stroke="#000" stroke-width="1.3"/>
<path d="M424.6 1417.8V1436.6M418.4 1417.8H430.8M418.4 1436.6H430.8" fill="none" stroke="#000" stroke-width="1.3"/>
<rect x="449.7" y="1225.15" width="15.6" height="258.25" fill="#fff" stroke="#000" stroke-width="2.3" stroke-linejoin="round"/>
<rect x="465.3" y="1315.9" width="15.6" height="167.5" fill="#bfbfbf"/>
<rect x="466.9" y="1317.5" width="12.4" height="164.5" fill="none" stroke="#dcdcdc" stroke-width="1.1"/>
<rect x="466.45" y="1315.9" width="13.3" height="5.9" fill="#d6d6d6"/>
<rect x="465.3" y="1315.9" width="15.6" height="167.5" fill="none" stroke="#000" stroke-width="2.3" stroke-linejoin="round"/>
<path d="M457.5 1218.45V1231.45M451.3 1218.45H463.7M451.3 1231.45H463.7" fill="none" stroke="#000" stroke-width="1.3"/>
<path d="M473.1 1309.8V1321.6M466.9 1309.8H479.3M466.9 1321.6H479.3" fill="none" stroke="#000" stroke-width="1.3"/>
<rect x="498.2" y="1244.9" width="15.6" height="238.5" fill="#fff" stroke="#000" stroke-width="2.3" stroke-linejoin="round"/>
<rect x="513.8" y="1396.4" width="15.6" height="87" fill="#bfbfbf"/>
<rect x="515.4" y="1398" width="12.4" height="84" fill="none" stroke="#dcdcdc" stroke-width="1.1"/>
<rect x="514.95" y="1396.4" width="13.3" height="5.6" fill="#d6d6d6"/>
<rect x="513.8" y="1396.4" width="15.6" height="87" fill="none" stroke="#000" stroke-width="2.3" stroke-linejoin="round"/>
<path d="M506 1243.1V1246.3M499.8 1243.1H512.2M499.8 1246.3H512.2" fill="none" stroke="#000" stroke-width="1.3"/>
<path d="M521.6 1390.6V1401.8M515.4 1390.6H527.8M515.4 1401.8H527.8" fill="none" stroke="#000" stroke-width="1.3"/>
<rect x="546.7" y="1275.8" width="15.6" height="207.6" fill="#fff" stroke="#000" stroke-width="2.3" stroke-linejoin="round"/>
<rect x="562.3" y="1409.7" width="15.6" height="73.7" fill="#bfbfbf"/>
<rect x="563.9" y="1411.3" width="12.4" height="70.7" fill="none" stroke="#dcdcdc" stroke-width="1.1"/>
<rect x="563.45" y="1409.7" width="13.3" height="2.5" fill="#d6d6d6"/>
<rect x="562.3" y="1409.7" width="15.6" height="73.7" fill="none" stroke="#000" stroke-width="2.3" stroke-linejoin="round"/>
<path d="M554.5 1273V1278.2M548.3 1273H560.7M548.3 1278.2H560.7" fill="none" stroke="#000" stroke-width="1.3"/>
<path d="M570.1 1407V1412M563.9 1407H576.3M563.9 1412H576.3" fill="none" stroke="#000" stroke-width="1.3"/>
<rect x="595.2" y="1101.9" width="15.6" height="381.5" fill="#fff" stroke="#000" stroke-width="2.3" stroke-linejoin="round"/>
<rect x="610.8" y="1212.9" width="15.6" height="270.5" fill="#bfbfbf"/>
<rect x="612.4" y="1214.5" width="12.4" height="267.5" fill="none" stroke="#dcdcdc" stroke-width="1.1"/>
<rect x="611.95" y="1212.9" width="13.3" height="11.25" fill="#d6d6d6"/>
<rect x="610.8" y="1212.9" width="15.6" height="270.5" fill="none" stroke="#000" stroke-width="2.3" stroke-linejoin="round"/>
<path d="M603 1095.7V1107.7M596.8 1095.7H609.2M596.8 1107.7H609.2" fill="none" stroke="#000" stroke-width="1.3"/>
<path d="M618.6 1201.45V1223.95M612.4 1201.45H624.8M612.4 1223.95H624.8" fill="none" stroke="#000" stroke-width="1.3"/>
<rect x="643.7" y="1090.65" width="15.6" height="392.75" fill="#fff" stroke="#000" stroke-width="2.3" stroke-linejoin="round"/>
<rect x="659.3" y="1191.4" width="15.6" height="292" fill="#bfbfbf"/>
<rect x="660.9" y="1193" width="12.4" height="289" fill="none" stroke="#dcdcdc" stroke-width="1.1"/>
<rect x="660.45" y="1191.4" width="13.3" height="9.1" fill="#d6d6d6"/>
<rect x="659.3" y="1191.4" width="15.6" height="292" fill="none" stroke="#000" stroke-width="2.3" stroke-linejoin="round"/>
<path d="M651.5 1085.7V1095.2M645.3 1085.7H657.7M645.3 1095.2H657.7" fill="none" stroke="#000" stroke-width="1.3"/>
<path d="M667.1 1182.1V1200.3M660.9 1182.1H673.3M660.9 1200.3H673.3" fill="none" stroke="#000" stroke-width="1.3"/>
<rect x="692.2" y="1130.15" width="15.6" height="353.25" fill="#fff" stroke="#000" stroke-width="2.3" stroke-linejoin="round"/>
<rect x="707.8" y="1432.4" width="15.6" height="51" fill="#bfbfbf"/>
<rect x="709.4" y="1434" width="12.4" height="48" fill="none" stroke="#dcdcdc" stroke-width="1.1"/>
<rect x="707.8" y="1432.4" width="15.6" height="51" fill="none" stroke="#000" stroke-width="2.3" stroke-linejoin="round"/>
<path d="M700 1124.05V1135.85M693.8 1124.05H706.2M693.8 1135.85H706.2" fill="none" stroke="#000" stroke-width="1.3"/>
<path d="M715.6 1430.6V1433.8M709.4 1430.6H721.8M709.4 1433.8H721.8" fill="none" stroke="#000" stroke-width="1.3"/>
<rect x="740.7" y="1165.4" width="15.6" height="318" fill="#fff" stroke="#000" stroke-width="2.3" stroke-linejoin="round"/>
<rect x="756.3" y="1405.4" width="15.6" height="78" fill="#bfbfbf"/>
<rect x="757.9" y="1407" width="12.4" height="75" fill="none" stroke="#dcdcdc" stroke-width="1.1"/>
<rect x="756.3" y="1405.4" width="15.6" height="78" fill="none" stroke="#000" stroke-width="2.3" stroke-linejoin="round"/>
<path d="M748.5 1159.95V1170.45M742.3 1159.95H754.7M742.3 1170.45H754.7" fill="none" stroke="#000" stroke-width="1.3"/>
<path d="M764.1 1403.6V1406.8M757.9 1403.6H770.3M757.9 1406.8H770.3" fill="none" stroke="#000" stroke-width="1.3"/>
<rect x="789.2" y="1277.9" width="15.6" height="205.5" fill="#fff" stroke="#000" stroke-width="2.3" stroke-linejoin="round"/>
<rect x="804.8" y="1402.65" width="15.6" height="80.75" fill="#bfbfbf"/>
<rect x="806.4" y="1404.25" width="12.4" height="77.75" fill="none" stroke="#dcdcdc" stroke-width="1.1"/>
<rect x="804.8" y="1402.65" width="15.6" height="80.75" fill="none" stroke="#000" stroke-width="2.3" stroke-linejoin="round"/>
<path d="M797 1271.95V1283.45M790.8 1271.95H803.2M790.8 1283.45H803.2" fill="none" stroke="#000" stroke-width="1.3"/>
<path d="M812.6 1400.35V1404.55M806.4 1400.35H818.8M806.4 1404.55H818.8" fill="none" stroke="#000" stroke-width="1.3"/>
<rect x="837.7" y="1105.65" width="15.6" height="377.75" fill="#fff" stroke="#000" stroke-width="2.3" stroke-linejoin="round"/>
<rect x="853.3" y="1398.65" width="15.6" height="84.75" fill="#bfbfbf"/>
<rect x="854.9" y="1400.25" width="12.4" height="81.75" fill="none" stroke="#dcdcdc" stroke-width="1.1"/>
<rect x="854.45" y="1398.65" width="13.3" height="8.1" fill="#d6d6d6"/>
<rect x="853.3" y="1398.65" width="15.6" height="84.75" fill="none" stroke="#000" stroke-width="2.3" stroke-linejoin="round"/>
<path d="M845.5 1099.45V1111.45M839.3 1099.45H851.7M839.3 1111.45H851.7" fill="none" stroke="#000" stroke-width="1.3"/>
<path d="M861.1 1390.35V1406.55M854.9 1390.35H867.3M854.9 1406.55H867.3" fill="none" stroke="#000" stroke-width="1.3"/>
<rect x="886.2" y="993.4" width="15.6" height="490" fill="#fff" stroke="#000" stroke-width="2.3" stroke-linejoin="round"/>
<rect x="901.8" y="1082.9" width="15.6" height="400.5" fill="#bfbfbf"/>
<rect x="903.4" y="1084.5" width="12.4" height="397.5" fill="none" stroke="#dcdcdc" stroke-width="1.1"/>
<rect x="902.95" y="1082.9" width="13.3" height="4.5" fill="#d6d6d6"/>
<rect x="901.8" y="1082.9" width="15.6" height="400.5" fill="none" stroke="#000" stroke-width="2.3" stroke-linejoin="round"/>
<path d="M894 988.2V998.2M887.8 988.2H900.2M887.8 998.2H900.2" fill="none" stroke="#000" stroke-width="1.3"/>
<path d="M909.6 1078.2V1087.2M903.4 1078.2H915.8M903.4 1087.2H915.8" fill="none" stroke="#000" stroke-width="1.3"/>
<g font-size="26.3" text-anchor="middle" transform="scale(1 1.0)">
<text x="168" y="1195.75">ijk</text>
<text x="183.25" y="1358.75">n</text>
<text x="216" y="1028.25">b</text>
<text x="238.25" y="1113.75">de</text>
<text x="265" y="1187.5">ijk</text>
<text x="279.25" y="1357">n</text>
<text x="313.75" y="1160.5">ghi</text>
<text x="336.25" y="1393">no</text>
<text x="361" y="1151.25">fgh</text>
<text x="382.75" y="1374.5">no</text>
<text x="411.5" y="1126.75">efg</text>
<text x="426" y="1411.2">o</text>
<text x="458" y="1208.75">jk</text>
<text x="477.75" y="1303">m</text>
<text x="507.75" y="1236.25">kl</text>
<text x="527.1" y="1381.25">no</text>
<text x="552.4" y="1265.75">lm</text>
<text x="577.5" y="1398.75">no</text>
<text x="605.5" y="1091.25">cd</text>
<text x="627.75" y="1193.75">ijk</text>
<text x="650.5" y="1076.75">cd</text>
<text x="674.25" y="1172.5">hij</text>
<text x="701.25" y="1115.75">def</text>
<text x="716.75" y="1425">o</text>
<text x="750" y="1150">fgh</text>
<text x="769" y="1397">no</text>
<text x="799.5" y="1265">lm</text>
<text x="818.25" y="1393.75">no</text>
<text x="847.5" y="1091.25">cd</text>
<text x="867.25" y="1383.25">no</text>
<text x="895.5" y="978.75">a</text>
<text x="912.5" y="1071.25">c</text>
</g>
<path d="M142.3 860.2V1483.4H926" fill="none" stroke="#000" stroke-width="2.7" stroke-linecap="round"/>
<path d="M142.3 860.2H154.6M142.3 984.5H154.6M142.3 1109.25H154.6M142.3 1234H154.6M142.3 1358.7H154.6" fill="none" stroke="#000" stroke-width="2.7"/>
<g font-size="29.6" text-anchor="end" transform="scale(1 1.02)">
<text x="129.3" y="855.1">350.0</text>
<text x="129.3" y="976.96">280.0</text>
<text x="129.3" y="1099.26">210.0</text>
<text x="129.3" y="1221.57">140.0</text>
<text x="129.3" y="1343.82">70.0</text>
<text x="129.3" y="1466.08">0.0</text>
</g>
<rect x="146.1" y="864.05" width="71.85" height="35.7" fill="#fff" stroke="#000" stroke-width="2.3" stroke-linejoin="round"/>
<rect x="291.85" y="864.05" width="72" height="35.7" fill="#bfbfbf"/>
<rect x="293.45" y="865.65" width="68.8" height="32.5" fill="none" stroke="#dcdcdc" stroke-width="1.1"/>
<rect x="291.85" y="864.05" width="72" height="35.7" fill="none" stroke="#000" stroke-width="2.3" stroke-linejoin="round"/>
<g font-size="28.7" transform="scale(1 1.085)">
<text x="225.4" y="822.86">CK</text>
<text x="371.5" y="822.86">T</text>
</g>
<g font-size="29.8" text-anchor="middle" transform="scale(1 1.07)">
<text x="174" y="1420.09">SD</text>
<text x="222.5" y="1420.09">HZ</text>
<text x="271" y="1420.09">JC</text>
<text x="319.5" y="1420.09">ZQ</text>
<text x="368" y="1420.09">QC</text>
<text x="416.5" y="1420.09">KT</text>
<text x="465" y="1420.09">LX</text>
<text x="513.5" y="1420.09">QZ</text>
<text x="562" y="1420.09">MJ</text>
<text x="610.5" y="1420.09">AN</text>
<text x="659" y="1420.09">YZ</text>
<text x="707.5" y="1420.09">LZ</text>
<text x="756" y="1420.09">CX</text>
<text x="804.5" y="1420.09">GZ</text>
<text x="853" y="1420.09">XH</text>
<text x="901.5" y="1420.09">TZ</text>
</g>
<text transform="translate(472.5 1561.3) scale(1 1.06)" font-size="29.3">Germplasms</text>
<text transform="translate(37.1 1394.2) rotate(-90)" font-size="29.1">Stomatal conductance(mmol·m<tspan dy="-13.6" letter-spacing="0.4">-2</tspan><tspan dy="13.6">·s</tspan><tspan dy="-13.6" letter-spacing="0.4">-1</tspan><tspan dy="13.6">)</tspan></text>
</g>
<g>
<text transform="translate(1002.6 881.4) scale(1 1.06)" font-size="47" font-weight="bold">d</text>
<rect x="1125.2" y="1202.15" width="15.5" height="280.45" fill="#fff" stroke="#000" stroke-width="2.3" stroke-linejoin="round"/>
<rect x="1140.7" y="1387.15" width="15.5" height="95.45" fill="#bfbfbf"/>
<rect x="1142.3" y="1388.75" width="12.3" height="92.45" fill="none" stroke="#dcdcdc" stroke-width="1.1"/>
<rect x="1141.85" y="1387.15" width="13.2" height="9.4" fill="#d6d6d6"/>
<rect x="1140.7" y="1387.15" width="15.5" height="95.45" fill="none" stroke="#000" stroke-width="2.3" stroke-linejoin="round"/>
<path d="M1132.95 1198.45V1205.45M1126.75 1198.45H1139.15M1126.75 1205.45H1139.15" fill="none" stroke="#000" stroke-width="1.3"/>
<path d="M1148.45 1377.55V1396.35M1142.25 1377.55H1154.65M1142.25 1396.35H1154.65" fill="none" stroke="#000" stroke-width="1.3"/>
<rect x="1173.55" y="1154.4" width="15.5" height="328.2" fill="#fff" stroke="#000" stroke-width="2.3" stroke-linejoin="round"/>
<rect x="1189.05" y="1216.9" width="15.5" height="265.7" fill="#bfbfbf"/>
<rect x="1190.65" y="1218.5" width="12.3" height="262.7" fill="none" stroke="#dcdcdc" stroke-width="1.1"/>
<rect x="1189.05" y="1216.9" width="15.5" height="265.7" fill="none" stroke="#000" stroke-width="2.3" stroke-linejoin="round"/>
<path d="M1181.3 1146.95V1161.45M1175.1 1146.95H1187.5M1175.1 1161.45H1187.5" fill="none" stroke="#000" stroke-width="1.3"/>
<path d="M1196.8 1215.1V1218.3M1190.6 1215.1H1203M1190.6 1218.3H1203" fill="none" stroke="#000" stroke-width="1.3"/>
<rect x="1221.9" y="1235.9" width="15.5" height="246.7" fill="#fff" stroke="#000" stroke-width="2.3" stroke-linejoin="round"/>
<rect x="1237.4" y="1376.15" width="15.5" height="106.45" fill="#bfbfbf"/>
<rect x="1239" y="1377.75" width="12.3" height="103.45" fill="none" stroke="#dcdcdc" stroke-width="1.1"/>
<rect x="1238.55" y="1376.15" width="13.2" height="6.9" fill="#d6d6d6"/>
<rect x="1237.4" y="1376.15" width="15.5" height="106.45" fill="none" stroke="#000" stroke-width="2.3" stroke-linejoin="round"/>
<path d="M1229.65 1230.8V1240.6M1223.45 1230.8H1235.85M1223.45 1240.6H1235.85" fill="none" stroke="#000" stroke-width="1.3"/>
<path d="M1245.15 1369.05V1382.85M1238.95 1369.05H1251.35M1238.95 1382.85H1251.35" fill="none" stroke="#000" stroke-width="1.3"/>
<rect x="1270.25" y="1162.9" width="15.5" height="319.7" fill="#fff" stroke="#000" stroke-width="2.3" stroke-linejoin="round"/>
<rect x="1285.75" y="1409.65" width="15.5" height="72.95" fill="#bfbfbf"/>
<rect x="1287.35" y="1411.25" width="12.3" height="69.95" fill="none" stroke="#dcdcdc" stroke-width="1.1"/>
<rect x="1286.9" y="1409.65" width="13.2" height="7.1" fill="#d6d6d6"/>
<rect x="1285.75" y="1409.65" width="15.5" height="72.95" fill="none" stroke="#000" stroke-width="2.3" stroke-linejoin="round"/>
<path d="M1278 1153.3V1172.1M1271.8 1153.3H1284.2M1271.8 1172.1H1284.2" fill="none" stroke="#000" stroke-width="1.3"/>
<path d="M1293.5 1402.35V1416.55M1287.3 1402.35H1299.7M1287.3 1416.55H1299.7" fill="none" stroke="#000" stroke-width="1.3"/>
<rect x="1318.6" y="1215.15" width="15.5" height="267.45" fill="#fff" stroke="#000" stroke-width="2.3" stroke-linejoin="round"/>
<rect x="1334.1" y="1413.4" width="15.5" height="69.2" fill="#bfbfbf"/>
<rect x="1335.7" y="1415" width="12.3" height="66.2" fill="none" stroke="#dcdcdc" stroke-width="1.1"/>
<rect x="1335.25" y="1413.4" width="13.2" height="9.4" fill="#d6d6d6"/>
<rect x="1334.1" y="1413.4" width="15.5" height="69.2" fill="none" stroke="#000" stroke-width="2.3" stroke-linejoin="round"/>
<path d="M1326.35 1207.05V1222.85M1320.15 1207.05H1332.55M1320.15 1222.85H1332.55" fill="none" stroke="#000" stroke-width="1.3"/>
<path d="M1341.85 1403.8V1422.6M1335.65 1403.8H1348.05M1335.65 1422.6H1348.05" fill="none" stroke="#000" stroke-width="1.3"/>
<rect x="1366.95" y="1195.15" width="15.5" height="287.45" fill="#fff" stroke="#000" stroke-width="2.3" stroke-linejoin="round"/>
<rect x="1382.45" y="1423.15" width="15.5" height="59.45" fill="#bfbfbf"/>
<rect x="1384.05" y="1424.75" width="12.3" height="56.45" fill="none" stroke="#dcdcdc" stroke-width="1.1"/>
<rect x="1383.6" y="1423.15" width="13.2" height="6.5" fill="#d6d6d6"/>
<rect x="1382.45" y="1423.15" width="15.5" height="59.45" fill="none" stroke="#000" stroke-width="2.3" stroke-linejoin="round"/>
<path d="M1374.7 1187.05V1202.85M1368.5 1187.05H1380.9M1368.5 1202.85H1380.9" fill="none" stroke="#000" stroke-width="1.3"/>
<path d="M1390.2 1416.45V1429.45M1384 1416.45H1396.4M1384 1429.45H1396.4" fill="none" stroke="#000" stroke-width="1.3"/>
<rect x="1415.3" y="1218.65" width="15.5" height="263.95" fill="#fff" stroke="#000" stroke-width="2.3" stroke-linejoin="round"/>
<rect x="1430.8" y="1297.4" width="15.5" height="185.2" fill="#bfbfbf"/>
<rect x="1432.4" y="1299" width="12.3" height="182.2" fill="none" stroke="#dcdcdc" stroke-width="1.1"/>
<rect x="1431.95" y="1297.4" width="13.2" height="8.1" fill="#d6d6d6"/>
<rect x="1430.8" y="1297.4" width="15.5" height="185.2" fill="none" stroke="#000" stroke-width="2.3" stroke-linejoin="round"/>
<path d="M1423.05 1210.55V1226.35M1416.85 1210.55H1429.25M1416.85 1226.35H1429.25" fill="none" stroke="#000" stroke-width="1.3"/>
<path d="M1438.55 1289.1V1305.3M1432.35 1289.1H1444.75M1432.35 1305.3H1444.75" fill="none" stroke="#000" stroke-width="1.3"/>
<rect x="1463.65" y="1291.9" width="15.5" height="190.7" fill="#fff" stroke="#000" stroke-width="2.3" stroke-linejoin="round"/>
<rect x="1479.15" y="1413.65" width="15.5" height="68.95" fill="#bfbfbf"/>
<rect x="1480.75" y="1415.25" width="12.3" height="65.95" fill="none" stroke="#dcdcdc" stroke-width="1.1"/>
<rect x="1480.3" y="1413.65" width="13.2" height="5.6" fill="#d6d6d6"/>
<rect x="1479.15" y="1413.65" width="15.5" height="68.95" fill="none" stroke="#000" stroke-width="2.3" stroke-linejoin="round"/>
<path d="M1471.4 1283.6V1299.8M1465.2 1283.6H1477.6M1465.2 1299.8H1477.6" fill="none" stroke="#000" stroke-width="1.3"/>
<path d="M1486.9 1407.85V1419.05M1480.7 1407.85H1493.1M1480.7 1419.05H1493.1" fill="none" stroke="#000" stroke-width="1.3"/>
<rect x="1512" y="1290.5" width="15.5" height="192.1" fill="#fff" stroke="#000" stroke-width="2.3" stroke-linejoin="round"/>
<rect x="1527.5" y="1414.65" width="15.5" height="67.95" fill="#bfbfbf"/>
<rect x="1529.1" y="1416.25" width="12.3" height="64.95" fill="none" stroke="#dcdcdc" stroke-width="1.1"/>
<rect x="1528.65" y="1414.65" width="13.2" height="3.5" fill="#d6d6d6"/>
<rect x="1527.5" y="1414.65" width="15.5" height="67.95" fill="none" stroke="#000" stroke-width="2.3" stroke-linejoin="round"/>
<path d="M1519.75 1285.4V1295.2M1513.55 1285.4H1525.95M1513.55 1295.2H1525.95" fill="none" stroke="#000" stroke-width="1.3"/>
<path d="M1535.25 1410.95V1417.95M1529.05 1410.95H1541.45M1529.05 1417.95H1541.45" fill="none" stroke="#000" stroke-width="1.3"/>
<rect x="1560.35" y="1220.65" width="15.5" height="261.95" fill="#fff" stroke="#000" stroke-width="2.3" stroke-linejoin="round"/>
<rect x="1575.85" y="1345.9" width="15.5" height="136.7" fill="#bfbfbf"/>
<rect x="1577.45" y="1347.5" width="12.3" height="133.7" fill="none" stroke="#dcdcdc" stroke-width="1.1"/>
<rect x="1577" y="1345.9" width="13.2" height="8.75" fill="#d6d6d6"/>
<rect x="1575.85" y="1345.9" width="15.5" height="136.7" fill="none" stroke="#000" stroke-width="2.3" stroke-linejoin="round"/>
<path d="M1568.1 1211.95V1228.95M1561.9 1211.95H1574.3M1561.9 1228.95H1574.3" fill="none" stroke="#000" stroke-width="1.3"/>
<path d="M1583.6 1336.95V1354.45M1577.4 1336.95H1589.8M1577.4 1354.45H1589.8" fill="none" stroke="#000" stroke-width="1.3"/>
<rect x="1608.7" y="1213.4" width="15.5" height="269.2" fill="#fff" stroke="#000" stroke-width="2.3" stroke-linejoin="round"/>
<rect x="1624.2" y="1306.15" width="15.5" height="176.45" fill="#bfbfbf"/>
<rect x="1625.8" y="1307.75" width="12.3" height="173.45" fill="none" stroke="#dcdcdc" stroke-width="1.1"/>
<rect x="1625.35" y="1306.15" width="13.2" height="5.9" fill="#d6d6d6"/>
<rect x="1624.2" y="1306.15" width="15.5" height="176.45" fill="none" stroke="#000" stroke-width="2.3" stroke-linejoin="round"/>
<path d="M1616.45 1201.95V1224.45M1610.25 1201.95H1622.65M1610.25 1224.45H1622.65" fill="none" stroke="#000" stroke-width="1.3"/>
<path d="M1631.95 1300.05V1311.85M1625.75 1300.05H1638.15M1625.75 1311.85H1638.15" fill="none" stroke="#000" stroke-width="1.3"/>
<rect x="1657.05" y="1241.9" width="15.5" height="240.7" fill="#fff" stroke="#000" stroke-width="2.3" stroke-linejoin="round"/>
<rect x="1672.55" y="1416.65" width="15.5" height="65.95" fill="#bfbfbf"/>
<rect x="1674.15" y="1418.25" width="12.3" height="62.95" fill="none" stroke="#dcdcdc" stroke-width="1.1"/>
<rect x="1673.7" y="1416.65" width="13.2" height="2.5" fill="#d6d6d6"/>
<rect x="1672.55" y="1416.65" width="15.5" height="65.95" fill="none" stroke="#000" stroke-width="2.3" stroke-linejoin="round"/>
<path d="M1664.8 1235.95V1247.45M1658.6 1235.95H1671M1658.6 1247.45H1671" fill="none" stroke="#000" stroke-width="1.3"/>
<path d="M1680.3 1413.95V1418.95M1674.1 1413.95H1686.5M1674.1 1418.95H1686.5" fill="none" stroke="#000" stroke-width="1.3"/>
<rect x="1705.4" y="1195.9" width="15.5" height="286.7" fill="#fff" stroke="#000" stroke-width="2.3" stroke-linejoin="round"/>
<rect x="1720.9" y="1408.65" width="15.5" height="73.95" fill="#bfbfbf"/>
<rect x="1722.5" y="1410.25" width="12.3" height="70.95" fill="none" stroke="#dcdcdc" stroke-width="1.1"/>
<rect x="1720.9" y="1408.65" width="15.5" height="73.95" fill="none" stroke="#000" stroke-width="2.3" stroke-linejoin="round"/>
<path d="M1713.15 1191.95V1199.45M1706.95 1191.95H1719.35M1706.95 1199.45H1719.35" fill="none" stroke="#000" stroke-width="1.3"/>
<path d="M1728.65 1406.85V1410.05M1722.45 1406.85H1734.85M1722.45 1410.05H1734.85" fill="none" stroke="#000" stroke-width="1.3"/>
<rect x="1753.75" y="1302.15" width="15.5" height="180.45" fill="#fff" stroke="#000" stroke-width="2.3" stroke-linejoin="round"/>
<rect x="1769.25" y="1417.9" width="15.5" height="64.7" fill="#bfbfbf"/>
<rect x="1770.85" y="1419.5" width="12.3" height="61.7" fill="none" stroke="#dcdcdc" stroke-width="1.1"/>
<rect x="1770.4" y="1417.9" width="13.2" height="3" fill="#d6d6d6"/>
<rect x="1769.25" y="1417.9" width="15.5" height="64.7" fill="none" stroke="#000" stroke-width="2.3" stroke-linejoin="round"/>
<path d="M1761.5 1288.55V1315.35M1755.3 1288.55H1767.7M1755.3 1315.35H1767.7" fill="none" stroke="#000" stroke-width="1.3"/>
<path d="M1777 1414.7V1420.7M1770.8 1414.7H1783.2M1770.8 1420.7H1783.2" fill="none" stroke="#000" stroke-width="1.3"/>
<rect x="1802.1" y="1198.4" width="15.5" height="284.2" fill="#fff" stroke="#000" stroke-width="2.3" stroke-linejoin="round"/>
<rect x="1817.6" y="1349.15" width="15.5" height="133.45" fill="#bfbfbf"/>
<rect x="1819.2" y="1350.75" width="12.3" height="130.45" fill="none" stroke="#dcdcdc" stroke-width="1.1"/>
<rect x="1818.75" y="1349.15" width="13.2" height="8.1" fill="#d6d6d6"/>
<rect x="1817.6" y="1349.15" width="15.5" height="133.45" fill="none" stroke="#000" stroke-width="2.3" stroke-linejoin="round"/>
<path d="M1809.85 1192.2V1204.2M1803.65 1192.2H1816.05M1803.65 1204.2H1816.05" fill="none" stroke="#000" stroke-width="1.3"/>
<path d="M1825.35 1340.85V1357.05M1819.15 1340.85H1831.55M1819.15 1357.05H1831.55" fill="none" stroke="#000" stroke-width="1.3"/>
<rect x="1850.45" y="1077.9" width="15.5" height="404.7" fill="#fff" stroke="#000" stroke-width="2.3" stroke-linejoin="round"/>
<rect x="1865.95" y="1152.4" width="15.5" height="330.2" fill="#bfbfbf"/>
<rect x="1867.55" y="1154" width="12.3" height="327.2" fill="none" stroke="#dcdcdc" stroke-width="1.1"/>
<rect x="1867.1" y="1152.4" width="13.2" height="12.9" fill="#d6d6d6"/>
<rect x="1865.95" y="1152.4" width="15.5" height="330.2" fill="none" stroke="#000" stroke-width="2.3" stroke-linejoin="round"/>
<path d="M1858.2 1070.45V1084.95M1852 1070.45H1864.4M1852 1084.95H1864.4" fill="none" stroke="#000" stroke-width="1.3"/>
<path d="M1873.7 1139.3V1165.1M1867.5 1139.3H1879.9M1867.5 1165.1H1879.9" fill="none" stroke="#000" stroke-width="1.3"/>
<g font-size="26.3" text-anchor="middle" transform="scale(1 1.0)">
<text x="1137.25" y="1190.5">cde</text>
<text x="1154.75" y="1368">hij</text>
<text x="1181.75" y="1141.25">b</text>
<text x="1202" y="1209.25">de</text>
<text x="1228.75" y="1225">de</text>
<text x="1253.5" y="1359.25">ghi</text>
<text x="1281.25" y="1148.75">bc</text>
<text x="1296.25" y="1394.25">ij</text>
<text x="1327" y="1201">de</text>
<text x="1344.25" y="1394.25">ij</text>
<text x="1373.25" y="1180.5">cd</text>
<text x="1389.5" y="1405.5">j</text>
<text x="1423" y="1206.25">de</text>
<text x="1439.75" y="1281">f</text>
<text x="1472.75" y="1278">f</text>
<text x="1488.25" y="1400">ij</text>
<text x="1521.4" y="1278.6">f</text>
<text x="1537.25" y="1400.5">ij</text>
<text x="1570.25" y="1203">de</text>
<text x="1586.75" y="1325">g</text>
<text x="1617" y="1194.25">de</text>
<text x="1635.5" y="1291.25">f</text>
<text x="1666" y="1228">e</text>
<text x="1683" y="1401.75">ij</text>
<text x="1716" y="1184.25">cd</text>
<text x="1731.25" y="1396.75">ij</text>
<text x="1762.75" y="1280.5">f</text>
<text x="1779.5" y="1403">ij</text>
<text x="1811" y="1185.5">cd</text>
<text x="1832.5" y="1333">gh</text>
<text x="1859" y="1059.25">a</text>
<text x="1876" y="1133">b</text>
</g>
<path d="M1108.9 859V1482.6H1890.8" fill="none" stroke="#000" stroke-width="2.7" stroke-linecap="round"/>
<path d="M1108.9 859H1121.2M1108.9 983.4H1121.2M1108.9 1108.2H1121.2M1108.9 1233H1121.2M1108.9 1357.8H1121.2" fill="none" stroke="#000" stroke-width="2.7"/>
<g font-size="29.4" text-anchor="end" transform="scale(1 1.06)">
<text x="1096.2" y="821.98">10.0</text>
<text x="1096.2" y="939.34">8.0</text>
<text x="1096.2" y="1057.08">6.0</text>
<text x="1096.2" y="1174.81">4.0</text>
<text x="1096.2" y="1292.55">2.0</text>
<text x="1096.2" y="1410.28">0.0</text>
</g>
<rect x="1112.6" y="863.3" width="71.3" height="35.2" fill="#fff" stroke="#000" stroke-width="2.3" stroke-linejoin="round"/>
<rect x="1258.6" y="863.3" width="71.8" height="35.2" fill="#bfbfbf"/>
<rect x="1260.2" y="864.9" width="68.6" height="32" fill="none" stroke="#dcdcdc" stroke-width="1.1"/>
<rect x="1258.6" y="863.3" width="71.8" height="35.2" fill="none" stroke="#000" stroke-width="2.3" stroke-linejoin="round"/>
<g font-size="28.9" transform="scale(1 1.06)">
<text x="1192.2" y="841.51">CK</text>
<text x="1338.25" y="841.51">T</text>
</g>
<g font-size="29.8" text-anchor="middle" transform="scale(1 1.07)">
<text x="1140.9" y="1418.79">SD</text>
<text x="1189.29" y="1418.79">HZ</text>
<text x="1237.68" y="1418.79">JC</text>
<text x="1286.07" y="1418.79">ZQ</text>
<text x="1334.46" y="1418.79">QC</text>
<text x="1382.85" y="1418.79">KT</text>
<text x="1431.24" y="1418.79">LX</text>
<text x="1479.63" y="1418.79">QZ</text>
<text x="1528.02" y="1418.79">MJ</text>
<text x="1576.41" y="1418.79">AN</text>
<text x="1624.8" y="1418.79">YZ</text>
<text x="1673.19" y="1418.79">LZ</text>
<text x="1721.58" y="1418.79">CX</text>
<text x="1769.97" y="1418.79">GZ</text>
<text x="1818.36" y="1418.79">XH</text>
<text x="1866.75" y="1418.79">TZ</text>
</g>
<text transform="translate(1436.7 1560.8) scale(1 1.06)" font-size="29.2">Germplasms</text>
<text transform="translate(1027.6 1363.4) rotate(-90)" font-size="29.45">Transpiration rat(mmol·m<tspan dy="-13.6" letter-spacing="0.4">-2</tspan><tspan dy="13.6">·s</tspan><tspan dy="-13.6" letter-spacing="0.4">-1</tspan><tspan dy="13.6">)</tspan></text>
</g>
<g>
<text transform="translate(544 1625) scale(1.05 1.15)" font-size="46" font-weight="bold">e</text>
<rect x="666.1" y="2077.9" width="16.45" height="198.8" fill="#fff" stroke="#000" stroke-width="2.3" stroke-linejoin="round"/>
<rect x="682.55" y="2108.9" width="16.45" height="167.8" fill="#bfbfbf"/>
<rect x="684.15" y="2110.5" width="13.25" height="164.8" fill="none" stroke="#dcdcdc" stroke-width="1.1"/>
<rect x="683.7" y="2108.9" width="14.15" height="8.4" fill="#d6d6d6"/>
<rect x="682.55" y="2108.9" width="16.45" height="167.8" fill="none" stroke="#000" stroke-width="2.3" stroke-linejoin="round"/>
<path d="M674.33 2074.6V2080.8M667.83 2074.6H680.83M667.83 2080.8H680.83" fill="none" stroke="#000" stroke-width="1.3"/>
<path d="M690.78 2100.3V2117.1M684.28 2100.3H697.28M684.28 2117.1H697.28" fill="none" stroke="#000" stroke-width="1.3"/>
<rect x="716.48" y="2140.4" width="16.45" height="136.3" fill="#fff" stroke="#000" stroke-width="2.3" stroke-linejoin="round"/>
<rect x="732.93" y="2176.4" width="16.45" height="100.3" fill="#bfbfbf"/>
<rect x="734.53" y="2178" width="13.25" height="97.3" fill="none" stroke="#dcdcdc" stroke-width="1.1"/>
<rect x="734.08" y="2176.4" width="14.15" height="7.75" fill="#d6d6d6"/>
<rect x="732.93" y="2176.4" width="16.45" height="100.3" fill="none" stroke="#000" stroke-width="2.3" stroke-linejoin="round"/>
<path d="M724.71 2133.95V2146.45M718.21 2133.95H731.21M718.21 2146.45H731.21" fill="none" stroke="#000" stroke-width="1.3"/>
<path d="M741.16 2168.45V2183.95M734.66 2168.45H747.66M734.66 2183.95H747.66" fill="none" stroke="#000" stroke-width="1.3"/>
<rect x="766.86" y="2001.65" width="16.45" height="275.05" fill="#fff" stroke="#000" stroke-width="2.3" stroke-linejoin="round"/>
<rect x="783.31" y="2185.65" width="16.45" height="91.05" fill="#bfbfbf"/>
<rect x="784.91" y="2187.25" width="13.25" height="88.05" fill="none" stroke="#dcdcdc" stroke-width="1.1"/>
<rect x="784.46" y="2185.65" width="14.15" height="4" fill="#d6d6d6"/>
<rect x="783.31" y="2185.65" width="16.45" height="91.05" fill="none" stroke="#000" stroke-width="2.3" stroke-linejoin="round"/>
<path d="M775.09 1997.7V2005.2M768.59 1997.7H781.59M768.59 2005.2H781.59" fill="none" stroke="#000" stroke-width="1.3"/>
<path d="M791.54 2181.45V2189.45M785.04 2181.45H798.04M785.04 2189.45H798.04" fill="none" stroke="#000" stroke-width="1.3"/>
<rect x="817.24" y="2005.65" width="16.45" height="271.05" fill="#fff" stroke="#000" stroke-width="2.3" stroke-linejoin="round"/>
<rect x="833.69" y="2204.9" width="16.45" height="71.8" fill="#bfbfbf"/>
<rect x="835.29" y="2206.5" width="13.25" height="68.8" fill="none" stroke="#dcdcdc" stroke-width="1.1"/>
<rect x="833.69" y="2204.9" width="16.45" height="71.8" fill="none" stroke="#000" stroke-width="2.3" stroke-linejoin="round"/>
<path d="M825.47 1994.55V2016.35M818.97 1994.55H831.97M818.97 2016.35H831.97" fill="none" stroke="#000" stroke-width="1.3"/>
<path d="M841.92 2202.8V2206.6M835.42 2202.8H848.42M835.42 2206.6H848.42" fill="none" stroke="#000" stroke-width="1.3"/>
<rect x="867.62" y="2031.15" width="16.45" height="245.55" fill="#fff" stroke="#000" stroke-width="2.3" stroke-linejoin="round"/>
<rect x="884.07" y="2173.4" width="16.45" height="103.3" fill="#bfbfbf"/>
<rect x="885.67" y="2175" width="13.25" height="100.3" fill="none" stroke="#dcdcdc" stroke-width="1.1"/>
<rect x="884.07" y="2173.4" width="16.45" height="103.3" fill="none" stroke="#000" stroke-width="2.3" stroke-linejoin="round"/>
<path d="M875.85 2019.7V2042.2M869.35 2019.7H882.35M869.35 2042.2H882.35" fill="none" stroke="#000" stroke-width="1.3"/>
<path d="M892.3 2171.6V2174.8M885.8 2171.6H898.8M885.8 2174.8H898.8" fill="none" stroke="#000" stroke-width="1.3"/>
<rect x="918" y="2008.65" width="16.45" height="268.05" fill="#fff" stroke="#000" stroke-width="2.3" stroke-linejoin="round"/>
<rect x="934.45" y="2141.4" width="16.45" height="135.3" fill="#bfbfbf"/>
<rect x="936.05" y="2143" width="13.25" height="132.3" fill="none" stroke="#dcdcdc" stroke-width="1.1"/>
<rect x="935.6" y="2141.4" width="14.15" height="8.5" fill="#d6d6d6"/>
<rect x="934.45" y="2141.4" width="16.45" height="135.3" fill="none" stroke="#000" stroke-width="2.3" stroke-linejoin="round"/>
<path d="M926.23 1997.55V2019.35M919.73 1997.55H932.73M919.73 2019.35H932.73" fill="none" stroke="#000" stroke-width="1.3"/>
<path d="M942.68 2132.7V2149.7M936.18 2132.7H949.18M936.18 2149.7H949.18" fill="none" stroke="#000" stroke-width="1.3"/>
<rect x="968.38" y="2055.9" width="16.45" height="220.8" fill="#fff" stroke="#000" stroke-width="2.3" stroke-linejoin="round"/>
<rect x="984.83" y="2169.65" width="16.45" height="107.05" fill="#bfbfbf"/>
<rect x="986.43" y="2171.25" width="13.25" height="104.05" fill="none" stroke="#dcdcdc" stroke-width="1.1"/>
<rect x="985.98" y="2169.65" width="14.15" height="4.1" fill="#d6d6d6"/>
<rect x="984.83" y="2169.65" width="16.45" height="107.05" fill="none" stroke="#000" stroke-width="2.3" stroke-linejoin="round"/>
<path d="M976.61 2048.8V2062.6M970.11 2048.8H983.11M970.11 2062.6H983.11" fill="none" stroke="#000" stroke-width="1.3"/>
<path d="M993.06 2165.35V2173.55M986.56 2165.35H999.56M986.56 2173.55H999.56" fill="none" stroke="#000" stroke-width="1.3"/>
<rect x="1018.76" y="1978.9" width="16.45" height="297.8" fill="#fff" stroke="#000" stroke-width="2.3" stroke-linejoin="round"/>
<rect x="1035.21" y="2155.9" width="16.45" height="120.8" fill="#bfbfbf"/>
<rect x="1036.81" y="2157.5" width="13.25" height="117.8" fill="none" stroke="#dcdcdc" stroke-width="1.1"/>
<rect x="1036.36" y="2155.9" width="14.15" height="14.9" fill="#d6d6d6"/>
<rect x="1035.21" y="2155.9" width="16.45" height="120.8" fill="none" stroke="#000" stroke-width="2.3" stroke-linejoin="round"/>
<path d="M1026.98 1966.45V1990.95M1020.48 1966.45H1033.48M1020.48 1990.95H1033.48" fill="none" stroke="#000" stroke-width="1.3"/>
<path d="M1043.43 2140.8V2170.6M1036.93 2140.8H1049.93M1036.93 2170.6H1049.93" fill="none" stroke="#000" stroke-width="1.3"/>
<rect x="1069.14" y="1933.65" width="16.45" height="343.05" fill="#fff" stroke="#000" stroke-width="2.3" stroke-linejoin="round"/>
<rect x="1085.59" y="2128.9" width="16.45" height="147.8" fill="#bfbfbf"/>
<rect x="1087.19" y="2130.5" width="13.25" height="144.8" fill="none" stroke="#dcdcdc" stroke-width="1.1"/>
<rect x="1086.74" y="2128.9" width="14.15" height="10.25" fill="#d6d6d6"/>
<rect x="1085.59" y="2128.9" width="16.45" height="147.8" fill="none" stroke="#000" stroke-width="2.3" stroke-linejoin="round"/>
<path d="M1077.37 1926.85V1940.05M1070.87 1926.85H1083.87M1070.87 1940.05H1083.87" fill="none" stroke="#000" stroke-width="1.3"/>
<path d="M1093.82 2118.45V2138.95M1087.32 2118.45H1100.32M1087.32 2138.95H1100.32" fill="none" stroke="#000" stroke-width="1.3"/>
<rect x="1119.52" y="2074.15" width="16.45" height="202.55" fill="#fff" stroke="#000" stroke-width="2.3" stroke-linejoin="round"/>
<rect x="1135.97" y="2192.15" width="16.45" height="84.55" fill="#bfbfbf"/>
<rect x="1137.57" y="2193.75" width="13.25" height="81.55" fill="none" stroke="#dcdcdc" stroke-width="1.1"/>
<rect x="1137.12" y="2192.15" width="14.15" height="13.4" fill="#d6d6d6"/>
<rect x="1135.97" y="2192.15" width="16.45" height="84.55" fill="none" stroke="#000" stroke-width="2.3" stroke-linejoin="round"/>
<path d="M1127.74 2065.7V2082.2M1121.24 2065.7H1134.24M1121.24 2082.2H1134.24" fill="none" stroke="#000" stroke-width="1.3"/>
<path d="M1144.19 2178.55V2205.35M1137.69 2178.55H1150.69M1137.69 2205.35H1150.69" fill="none" stroke="#000" stroke-width="1.3"/>
<rect x="1169.9" y="2092.9" width="16.45" height="183.8" fill="#fff" stroke="#000" stroke-width="2.3" stroke-linejoin="round"/>
<rect x="1186.35" y="2221.9" width="16.45" height="54.8" fill="#bfbfbf"/>
<rect x="1187.95" y="2223.5" width="13.25" height="51.8" fill="none" stroke="#dcdcdc" stroke-width="1.1"/>
<rect x="1186.35" y="2221.9" width="16.45" height="54.8" fill="none" stroke="#000" stroke-width="2.3" stroke-linejoin="round"/>
<path d="M1178.12 2074.6V2110.8M1171.62 2074.6H1184.62M1171.62 2110.8H1184.62" fill="none" stroke="#000" stroke-width="1.3"/>
<path d="M1194.58 2219.6V2223.8M1188.08 2219.6H1201.08M1188.08 2223.8H1201.08" fill="none" stroke="#000" stroke-width="1.3"/>
<rect x="1220.28" y="2026.4" width="16.45" height="250.3" fill="#fff" stroke="#000" stroke-width="2.3" stroke-linejoin="round"/>
<rect x="1236.73" y="2071.65" width="16.45" height="205.05" fill="#bfbfbf"/>
<rect x="1238.33" y="2073.25" width="13.25" height="202.05" fill="none" stroke="#dcdcdc" stroke-width="1.1"/>
<rect x="1237.88" y="2071.65" width="14.15" height="9" fill="#d6d6d6"/>
<rect x="1236.73" y="2071.65" width="16.45" height="205.05" fill="none" stroke="#000" stroke-width="2.3" stroke-linejoin="round"/>
<path d="M1228.51 2014.7V2037.7M1222.01 2014.7H1235.01M1222.01 2037.7H1235.01" fill="none" stroke="#000" stroke-width="1.3"/>
<path d="M1244.96 2062.45V2080.45M1238.46 2062.45H1251.46M1238.46 2080.45H1251.46" fill="none" stroke="#000" stroke-width="1.3"/>
<rect x="1270.66" y="1965.4" width="16.45" height="311.3" fill="#fff" stroke="#000" stroke-width="2.3" stroke-linejoin="round"/>
<rect x="1287.11" y="2156.65" width="16.45" height="120.05" fill="#bfbfbf"/>
<rect x="1288.71" y="2158.25" width="13.25" height="117.05" fill="none" stroke="#dcdcdc" stroke-width="1.1"/>
<rect x="1288.26" y="2156.65" width="14.15" height="18.4" fill="#d6d6d6"/>
<rect x="1287.11" y="2156.65" width="16.45" height="120.05" fill="none" stroke="#000" stroke-width="2.3" stroke-linejoin="round"/>
<path d="M1278.88 1955.7V1974.7M1272.38 1955.7H1285.38M1272.38 1974.7H1285.38" fill="none" stroke="#000" stroke-width="1.3"/>
<path d="M1295.34 2138.05V2174.85M1288.84 2138.05H1301.84M1288.84 2174.85H1301.84" fill="none" stroke="#000" stroke-width="1.3"/>
<rect x="1321.04" y="1777.4" width="16.45" height="499.3" fill="#fff" stroke="#000" stroke-width="2.3" stroke-linejoin="round"/>
<rect x="1337.49" y="1990.9" width="16.45" height="285.8" fill="#bfbfbf"/>
<rect x="1339.09" y="1992.5" width="13.25" height="282.8" fill="none" stroke="#dcdcdc" stroke-width="1.1"/>
<rect x="1338.64" y="1990.9" width="14.15" height="9.75" fill="#d6d6d6"/>
<rect x="1337.49" y="1990.9" width="16.45" height="285.8" fill="none" stroke="#000" stroke-width="2.3" stroke-linejoin="round"/>
<path d="M1329.26 1765.1V1789.3M1322.76 1765.1H1335.76M1322.76 1789.3H1335.76" fill="none" stroke="#000" stroke-width="1.3"/>
<path d="M1345.71 1980.95V2000.45M1339.21 1980.95H1352.21M1339.21 2000.45H1352.21" fill="none" stroke="#000" stroke-width="1.3"/>
<rect x="1371.42" y="1993.15" width="16.45" height="283.55" fill="#fff" stroke="#000" stroke-width="2.3" stroke-linejoin="round"/>
<rect x="1387.87" y="2133.15" width="16.45" height="143.55" fill="#bfbfbf"/>
<rect x="1389.47" y="2134.75" width="13.25" height="140.55" fill="none" stroke="#dcdcdc" stroke-width="1.1"/>
<rect x="1389.02" y="2133.15" width="14.15" height="8.4" fill="#d6d6d6"/>
<rect x="1387.87" y="2133.15" width="16.45" height="143.55" fill="none" stroke="#000" stroke-width="2.3" stroke-linejoin="round"/>
<path d="M1379.64 1989.45V1996.45M1373.14 1989.45H1386.14M1373.14 1996.45H1386.14" fill="none" stroke="#000" stroke-width="1.3"/>
<path d="M1396.1 2124.55V2141.35M1389.6 2124.55H1402.6M1389.6 2141.35H1402.6" fill="none" stroke="#000" stroke-width="1.3"/>
<rect x="1421.8" y="2107.9" width="16.45" height="168.8" fill="#fff" stroke="#000" stroke-width="2.3" stroke-linejoin="round"/>
<rect x="1438.25" y="2155.4" width="16.45" height="121.3" fill="#bfbfbf"/>
<rect x="1439.85" y="2157" width="13.25" height="118.3" fill="none" stroke="#dcdcdc" stroke-width="1.1"/>
<rect x="1438.25" y="2155.4" width="16.45" height="121.3" fill="none" stroke="#000" stroke-width="2.3" stroke-linejoin="round"/>
<path d="M1446.48 2153.6V2156.8M1439.98 2153.6H1452.98M1439.98 2156.8H1452.98" fill="none" stroke="#000" stroke-width="1.3"/>
<g font-size="27.2" text-anchor="middle" transform="scale(1 1.03)">
<text x="677.75" y="2004.9">ghi</text>
<text x="700" y="2030.87">ijk</text>
<text x="727.5" y="2064.37">ijk</text>
<text x="749.25" y="2100.05">mn</text>
<text x="775" y="1929.66">cd</text>
<text x="800.5" y="2110.49">mn</text>
<text x="822.25" y="1933.3">cd</text>
<text x="850.5" y="2128.69">mn</text>
<text x="877" y="1954.66">def</text>
<text x="899.5" y="2097.14">lm</text>
<text x="927.5" y="1932.57">cd</text>
<text x="951.25" y="2061.46">ijk</text>
<text x="979.5" y="1983.54">ef</text>
<text x="1000.75" y="2093.5">lm</text>
<text x="1030.5" y="1902.96">bc</text>
<text x="1047.5" y="2072.86">kl</text>
<text x="1078" y="1864.13">b</text>
<text x="1095.5" y="2049.32">ij</text>
<text x="1130.25" y="1996.41">fgh</text>
<text x="1153.5" y="2108.06">mn</text>
<text x="1179.25" y="2008.54">hij</text>
<text x="1195.75" y="2147.38">n</text>
<text x="1231.5" y="1951.5">cde</text>
<text x="1252.75" y="1993.98">fgh</text>
<text x="1277.25" y="1893.25">bc</text>
<text x="1300" y="2067.52">kl</text>
<text x="1329" y="1704.66">a</text>
<text x="1358.5" y="1910.97">bcd</text>
<text x="1384" y="1930.15">bcd</text>
<text x="1396.75" y="2054.66">ij</text>
<text x="1430" y="2038.16">ijk</text>
<text x="1454.5" y="2082.57">jkl</text>
</g>
<path d="M649.1 1627.2V2276.7H1463.3" fill="none" stroke="#000" stroke-width="2.7" stroke-linecap="round"/>
<path d="M649.1 1627.2H661.9M649.1 1756.8H661.9M649.1 1886.8H661.9M649.1 2016.8H661.9M649.1 2146.8H661.9" fill="none" stroke="#000" stroke-width="2.7"/>
<g font-size="30.8" text-anchor="end" transform="scale(1 1.0)">
<text x="635.6" y="1639.5">5.0</text>
<text x="635.6" y="1769.1">4.0</text>
<text x="635.6" y="1899.1">3.0</text>
<text x="635.6" y="2029.1">2.0</text>
<text x="635.6" y="2159.1">1.0</text>
<text x="635.6" y="2289">0.0</text>
</g>
<rect x="654.85" y="1631.55" width="74.8" height="36.95" fill="#fff" stroke="#000" stroke-width="2.3" stroke-linejoin="round"/>
<rect x="805.1" y="1631.55" width="75" height="36.95" fill="#bfbfbf"/>
<rect x="806.7" y="1633.15" width="71.8" height="33.75" fill="none" stroke="#dcdcdc" stroke-width="1.1"/>
<rect x="805.1" y="1631.55" width="75" height="36.95" fill="none" stroke="#000" stroke-width="2.3" stroke-linejoin="round"/>
<g font-size="29.8" transform="scale(1 1.085)">
<text x="737.2" y="1531.15">CK</text>
<text x="887.75" y="1531.15">T</text>
</g>
<g font-size="30.8" text-anchor="middle" transform="scale(1 1.04)">
<text x="682.9" y="2224.71">SD</text>
<text x="733.25" y="2224.71">HZ</text>
<text x="783.6" y="2224.71">JC</text>
<text x="833.95" y="2224.71">ZQ</text>
<text x="884.3" y="2224.71">QC</text>
<text x="934.65" y="2224.71">KT</text>
<text x="985" y="2224.71">LX</text>
<text x="1035.35" y="2224.71">QZ</text>
<text x="1085.7" y="2224.71">MJ</text>
<text x="1136.05" y="2224.71">AN</text>
<text x="1186.4" y="2224.71">YZ</text>
<text x="1236.75" y="2224.71">LZ</text>
<text x="1287.1" y="2224.71">CX</text>
<text x="1337.45" y="2224.71">GZ</text>
<text x="1387.8" y="2224.71">XH</text>
<text x="1438.15" y="2224.71">TZ</text>
</g>
<text transform="translate(989.2 2358.3) scale(1 1.06)" font-size="30.5">Germplasms</text>
<text transform="translate(566.2 2253.2) rotate(-90)" font-size="30.5">Instantaneous water use efficiency(μmol·mmol<tspan dy="-13.5" letter-spacing="0.4" font-size="18.5">-1</tspan><tspan dy="13.5">)</tspan></text>
</g>
</svg>
</body>
</html>
